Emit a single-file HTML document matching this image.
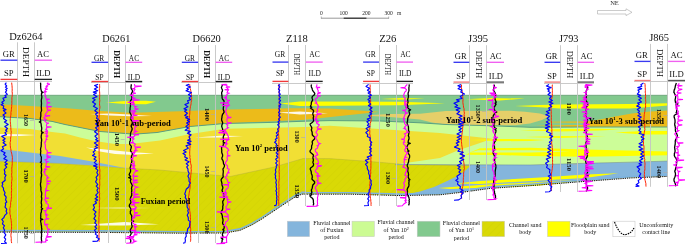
<!DOCTYPE html>
<html><head><meta charset="utf-8"><style>
html,body{margin:0;padding:0;background:#fff;}
svg{display:block;font-family:"Liberation Serif",serif;will-change:transform;}
</style></head><body>
<svg width="685" height="246" viewBox="0 0 685 246">
<defs>
<pattern id="hatch" patternUnits="userSpaceOnUse" width="5.5" height="5.5" patternTransform="rotate(45)">
<line x1="0" y1="0" x2="0" y2="5.5" stroke="#b8b800" stroke-width="0.8" opacity="0.25"/>
</pattern>
</defs>
<rect width="685" height="246" fill="#fff"/>
<polygon points="0.0,95.0 668.0,95.0 668.0,176.0 630.0,177.6 585.0,181.0 530.0,185.3 490.0,188.0 465.0,191.5 440.0,194.4 400.0,195.2 350.0,193.8 302.0,193.8 296.0,196.0 286.0,202.5 274.0,210.5 262.0,218.5 252.0,224.5 240.0,230.0 225.0,232.6 180.0,232.8 100.0,232.0 0.0,231.7" fill="#f1df34" /><polygon points="395.0,164.6 470.0,164.8 530.0,165.0 585.0,163.3 630.0,162.2 668.0,161.1 668.0,176.0 630.0,177.6 585.0,181.0 530.0,185.3 490.0,188.0 465.0,191.5 440.0,194.4 400.0,195.2 395.0,195.3" fill="#84b5dc" /><polygon points="0.0,161.2 60.0,163.5 123.0,168.0 160.0,170.0 230.0,176.5 274.0,167.0 303.0,158.5 330.0,158.6 374.0,161.8 403.0,164.3 470.5,165.5 466.0,170.0 456.0,176.7 445.0,182.0 434.0,187.0 420.0,191.5 405.0,194.5 395.0,195.3 350.0,193.8 302.0,193.8 296.0,196.0 286.0,202.5 274.0,210.5 262.0,218.5 252.0,224.5 240.0,230.0 225.0,232.6 180.0,232.8 100.0,232.0 0.0,231.7" fill="#d9d906" /><polygon points="0.0,161.2 60.0,163.5 123.0,168.0 160.0,170.0 230.0,176.5 274.0,167.0 303.0,158.5 330.0,158.6 374.0,161.8 403.0,164.3 470.5,165.5 466.0,170.0 456.0,176.7 445.0,182.0 434.0,187.0 420.0,191.5 405.0,194.5 395.0,195.3 350.0,193.8 302.0,193.8 296.0,196.0 286.0,202.5 274.0,210.5 262.0,218.5 252.0,224.5 240.0,230.0 225.0,232.6 180.0,232.8 100.0,232.0 0.0,231.7" fill="url(#hatch)" /><polygon points="0.0,149.0 30.0,152.5 60.0,156.0 95.0,162.0 125.0,168.0 95.0,165.5 60.0,163.5 0.0,161.2" fill="#84b5dc" /><polygon points="0.0,116.7 30.0,118.5 52.0,121.4 65.0,124.5 100.0,131.5 134.0,134.2 157.0,132.5 190.0,126.5 225.0,123.5 272.0,122.4 305.0,121.2 330.0,120.6 380.0,121.0 420.0,122.8 446.0,124.5 492.0,125.8 530.0,127.3 585.0,127.0 668.0,127.0 668.0,161.1 630.0,162.2 585.0,163.3 530.0,165.0 470.0,164.8 395.0,164.6 440.0,158.0 457.0,150.8 474.0,145.0 492.4,138.8 440.0,133.1 330.0,125.8 305.0,127.0 270.0,127.8 225.0,128.7 190.0,134.0 160.0,140.5 130.0,144.0 115.0,144.0 95.0,141.0 80.0,137.5 65.0,133.5 52.0,132.0 30.0,129.1 0.0,127.5" fill="#ccfd98" /><polygon points="0.0,95.0 668.0,95.0 668.0,127.0 585.0,127.0 530.0,127.3 492.0,125.8 446.0,124.5 420.0,122.8 380.0,121.0 330.0,120.6 305.0,121.2 272.0,122.4 225.0,123.5 190.0,126.5 157.0,132.5 134.0,134.2 100.0,131.5 65.0,124.5 52.0,121.4 30.0,118.5 0.0,116.7" fill="#82c98e" /><polygon points="0.0,104.3 30.0,106.0 70.0,108.4 96.0,110.7 130.0,112.8 140.0,112.5 180.0,111.2 225.0,109.6 274.0,108.8 290.0,108.2 330.0,108.6 378.0,111.8 378.0,112.0 340.0,116.0 305.0,119.7 272.0,121.3 225.0,123.2 190.0,126.5 157.0,132.5 134.0,134.2 100.0,131.5 65.0,124.5 52.0,121.4 30.0,118.5 0.0,116.7" fill="#ecbb1a" /><polygon points="371.0,115.0 390.0,114.0 420.0,113.8 446.0,111.0 510.0,110.8 525.0,111.8 540.0,113.5 549.0,116.2 542.0,120.0 530.0,123.5 515.0,125.3 492.0,125.6 446.0,124.4 432.0,122.6 420.0,119.6 390.0,117.0 371.0,116.0" fill="#e5cf69" /><polygon points="585.0,121.5 600.0,119.5 615.0,116.5 632.0,113.5 650.0,111.6 668.0,110.6 668.0,127.0 600.0,127.0 585.0,126.5" fill="#ecbb1a" /><polygon points="535.0,122.0 570.0,121.4 600.0,121.4 600.0,122.8 570.0,122.8" fill="#ecbb1a" /><polygon points="535.0,125.8 570.0,125.0 600.0,125.0 600.0,126.9 570.0,126.9" fill="#ecbb1a" /><polygon points="106.0,102.6 125.0,101.0 146.0,100.8 156.0,101.8 146.0,104.2 125.0,104.0" fill="#ffff00" /><polygon points="280.0,103.6 300.0,101.4 400.0,101.7 445.0,103.3 400.0,105.3 300.0,106.0" fill="#ffff00" /><polygon points="381.0,99.0 400.0,98.0 425.0,98.6 400.0,99.8" fill="#ffff00" /><polygon points="466.0,99.3 490.0,98.0 525.0,98.6 500.0,100.4" fill="#ffff00" /><polygon points="515.0,106.0 540.0,105.0 560.0,104.6 630.0,104.0 668.0,103.3 668.0,105.5 630.0,108.4 560.0,108.6 540.0,107.2" fill="#ffff00" /><polygon points="520.0,130.2 560.0,129.0 600.0,128.7 619.0,129.4 600.0,130.5 560.0,131.4" fill="#ffff00" /><polygon points="615.0,132.5 642.0,131.0 668.0,131.0 668.0,134.6 642.0,134.6 630.0,133.6" fill="#ffff00" /><polygon points="525.0,137.0 560.0,135.9 606.0,136.5 560.0,138.0" fill="#ffff00" /><polygon points="469.0,140.0 500.0,139.0 530.0,139.3 545.0,140.0 530.0,141.0 500.0,141.2" fill="#ffff00" /><polygon points="480.0,148.2 530.0,147.8 585.0,149.4 668.0,151.6 668.0,155.2 585.0,156.7 530.0,156.0 500.0,155.0 466.0,154.7 470.0,152.6" fill="#ffff00" /><polygon points="455.0,183.5 480.0,181.0 540.0,177.5 585.0,174.5 618.5,173.3 585.0,178.0 540.0,180.4 480.0,184.0" fill="#ffff00" /><polygon points="438.0,188.0 480.0,185.0 540.0,181.9 580.0,179.5 600.0,178.6 540.0,185.5 490.0,187.5 450.0,189.0" fill="#ffff00" /><polygon points="478.0,150.3 530.0,150.3 570.0,151.5 530.0,152.5 470.0,152.6" fill="#ccfd98" /><polygon points="0.0,134.0 20.0,134.2 36.0,135.0 20.0,136.0 0.0,136.3" fill="#ffffff" opacity="0.9"/><polygon points="86.0,147.5 110.0,150.0 130.0,152.0 154.0,153.5 130.0,154.8 115.0,154.0 100.0,151.5" fill="#ffffff" opacity="0.9"/><polygon points="90.0,114.0 110.0,113.5 130.0,114.5 152.0,116.0 130.0,116.2 110.0,115.6" fill="#ffffff" opacity="0.9"/><polygon points="278.0,112.5 300.0,111.6 328.0,113.3 300.0,114.6" fill="#ffffff" opacity="0.9"/><polygon points="195.0,137.5 220.0,135.8 243.0,136.0 220.0,137.4" fill="#ffffff" opacity="0.9"/><polygon points="80.0,225.0 110.0,223.0 125.0,222.0 159.0,224.3 125.0,225.6 100.0,225.4" fill="#ffffff" opacity="0.9"/><polygon points="89.0,208.0 120.0,207.3 153.0,208.0 120.0,208.8" fill="#ffffff" opacity="0.5"/><polyline points="0.0,95.3 668.0,95.3" fill="none" stroke="#76a882" stroke-width="0.9" /><polyline points="0.0,116.7 30.0,118.5 52.0,121.4 65.0,124.5 100.0,131.5 134.0,134.2 157.0,132.5 190.0,126.5 225.0,123.5 272.0,122.4 305.0,121.2 330.0,120.6 380.0,121.0 420.0,122.8 446.0,124.5 492.0,125.8 530.0,127.3 585.0,127.0 668.0,127.0" fill="none" stroke="#4f9a86" stroke-width="0.9" /><polyline points="0.0,161.2 60.0,163.5 123.0,168.0 160.0,170.0 230.0,176.5 274.0,167.0 303.0,158.5 330.0,158.6 374.0,161.8 403.0,164.3 470.5,165.5" fill="none" stroke="#9a9a50" stroke-width="0.5" opacity="0.6"/><polyline points="395.0,164.6 470.0,164.8 530.0,165.0 585.0,163.3 630.0,162.2 668.0,161.1" fill="none" stroke="#6a8fb0" stroke-width="0.6" /><polyline points="0.0,230.6 100.0,230.9 180.0,231.7 225.0,231.5 240.0,228.9 252.0,223.4 262.0,217.4 274.0,209.4 286.0,201.4 296.0,194.9 302.0,192.7 350.0,192.7 400.0,194.1 440.0,193.3 465.0,190.4 490.0,186.9 530.0,184.2 585.0,179.9 630.0,176.5 668.0,174.9" fill="none" stroke="#7db3df" stroke-width="1.6" /><polyline points="0.0,232.1 100.0,232.4 180.0,233.2 225.0,233.0 240.0,230.4 252.0,224.9 262.0,218.9 274.0,210.9 286.0,202.9 296.0,196.4 302.0,194.2 350.0,194.2 400.0,195.6 440.0,194.8 465.0,191.9 490.0,188.4 530.0,185.7 585.0,181.4 630.0,178.0 668.0,176.4" fill="none" stroke="#111" stroke-width="1.0" stroke-dasharray="1.3 0.9"/>
<line x1="17.5" y1="42.3" x2="17.5" y2="243.3" stroke="#c4c4c4" stroke-width="0.9"/><line x1="34.5" y1="42.3" x2="34.5" y2="243.3" stroke="#c4c4c4" stroke-width="0.9"/><line x1="0" y1="81.5" x2="52" y2="81.5" stroke="#c4c4c4" stroke-width="0.9"/><line x1="0.5" y1="60.2" x2="17.3" y2="60.2" stroke="#3a3af0" stroke-width="1.35"/><line x1="34.699999999999996" y1="60.2" x2="52" y2="60.2" stroke="#f060f0" stroke-width="1.35"/><line x1="0.5" y1="79.4" x2="17.3" y2="79.4" stroke="#f03a3a" stroke-width="1.35"/><line x1="34.699999999999996" y1="79.4" x2="52" y2="79.4" stroke="#222" stroke-width="1.35"/><text x="2.7" y="57.1" font-size="8.6" fill="#111">GR</text><text x="37.1" y="57.1" font-size="8.6" fill="#111">AC</text><text x="4" y="75.9" font-size="8.6" fill="#111">SP</text><text x="36.2" y="75.9" font-size="8.6" fill="#111">ILD</text><text x="9.2" y="39.75" font-size="11" fill="#111" textLength="33.2" lengthAdjust="spacingAndGlyphs">Dz6264</text><text transform="translate(23.0,47) rotate(90)" font-size="9" fill="#111" textLength="30" lengthAdjust="spacingAndGlyphs">DEPTH</text><text transform="translate(23.7,114) rotate(90)" font-size="6.3" font-weight="bold" fill="#111" textLength="12" lengthAdjust="spacingAndGlyphs">1650</text><line x1="29.9" y1="120.5" x2="33.9" y2="120.5" stroke="#aaa" stroke-width="0.6"/><text transform="translate(23.7,169.5) rotate(90)" font-size="6.3" font-weight="bold" fill="#111" textLength="13.199999999999989" lengthAdjust="spacingAndGlyphs">1700</text><line x1="29.9" y1="176.5" x2="33.9" y2="176.5" stroke="#aaa" stroke-width="0.6"/><text transform="translate(23.7,226.6) rotate(90)" font-size="6.3" font-weight="bold" fill="#111" textLength="12.300000000000011" lengthAdjust="spacingAndGlyphs">1750</text><line x1="29.9" y1="233.5" x2="33.9" y2="233.5" stroke="#aaa" stroke-width="0.6"/><polyline points="11.7,82.6 11.8,84.1 12.0,85.6 12.1,87.1 12.2,88.6 12.2,90.1 12.1,91.6 12.3,93.1 12.3,94.6 12.2,96.1 11.9,97.6 11.9,99.1 11.9,100.6 11.8,102.1 11.9,103.6 11.7,105.1 11.7,106.6 11.5,108.1 11.4,109.6 11.2,111.1 10.9,112.6 11.0,114.1 10.7,115.6 10.6,117.1 10.3,118.6 10.2,120.1 10.3,121.6 10.4,123.1 10.6,124.6 10.7,126.1 10.8,127.6 10.9,129.1 11.0,130.6 11.3,132.1 11.0,133.6 11.1,135.1 10.9,136.6 10.6,138.1 10.6,139.6 10.5,141.1 10.1,142.6 10.2,144.1 10.3,145.6 10.4,147.1 10.7,148.6 11.0,150.1 11.1,151.6 11.6,153.1 11.9,154.6 12.2,156.1 12.4,157.6 12.3,159.1 12.3,160.6 12.2,162.1 12.3,163.6 12.1,165.1 12.0,166.6 11.8,168.1 11.8,169.6 11.8,171.1 11.9,172.6 11.6,174.1 11.7,175.6 11.9,177.1 12.0,178.6 11.9,180.1 11.6,181.6 11.5,183.1 11.7,184.6 11.5,186.1 11.4,187.6 11.6,189.1 11.6,190.6 11.4,192.1 11.4,193.6 11.4,195.1 11.5,196.6 11.3,198.1 11.2,199.6 11.0,201.1 10.6,202.6 10.7,204.1 10.5,205.6 10.2,207.1 9.8,208.6 9.9,210.1 10.0,211.6 9.8,213.1 10.1,214.6 10.5,216.1 10.5,217.6 11.0,219.1 11.2,220.6 11.3,222.1 11.5,223.6 11.6,225.1 11.5,226.6 11.6,228.1 11.3,229.6 11.2,231.1 11.2,232.6 11.0,234.1 10.9,235.6 11.1,237.1 11.3,238.6 11.2,240.1 11.4,241.6 11.7,243.1" fill="none" stroke="#ff2000" stroke-width="1.0" /><polyline points="6.4,82.6 5.1,84.2 6.7,86.0 5.4,87.1 7.2,88.4 5.7,89.4 6.7,90.7 5.4,92.2 7.3,94.4 4.9,95.6 6.3,97.1 2.9,98.3 4.3,100.6 1.8,102.3 3.3,103.5 1.0,104.8 3.8,106.1 3.1,108.4 6.0,109.6 3.4,110.6 6.0,113.0 3.0,115.0 4.8,116.5 3.5,118.6 6.7,120.7 4.4,122.0 8.2,124.4 4.8,126.5 7.5,128.5 5.6,130.2 6.9,131.3 4.9,132.7 6.5,134.6 1.7,136.3 5.2,138.7 2.8,140.2 4.9,141.5 3.1,142.8 6.2,145.0 2.3,146.7 3.6,148.8 1.0,150.7 5.1,152.8 3.6,154.5 6.3,156.6 3.8,158.7 7.2,160.3 4.9,162.6 7.4,163.9 5.0,165.1 6.7,167.2 4.2,169.7 5.0,172.0 4.4,174.0 6.0,175.3 4.8,177.5 5.2,180.2 2.1,182.8 2.8,184.3 1.9,186.0 3.5,188.1 3.5,190.0 5.1,192.7 4.3,194.6 6.2,197.2 5.6,199.9 6.8,202.0 5.3,203.2 5.7,204.7 5.0,207.2 6.8,209.1 6.1,211.2 7.1,213.2 4.6,215.7 3.8,217.8 1.8,219.4 3.3,221.5 2.4,223.9 4.5,225.8 3.3,227.8 4.6,230.1 3.8,232.1 5.8,234.9 4.2,237.5 5.7,239.1 4.6,241.8 6.5,243.2 1.0,243.5" fill="none" stroke="#0000ff" stroke-width="1.15" stroke-linejoin="round"/><polyline points="40.5,82.6 40.6,83.6 40.7,84.6 40.6,85.6 40.7,86.6 40.7,87.6 40.8,88.6 41.0,89.6 41.3,90.6 41.5,91.6 43.1,92.4 41.5,93.2 41.5,94.2 41.5,95.2 41.8,96.2 41.8,97.2 41.7,98.2 41.5,99.2 41.3,100.2 41.3,101.2 41.4,102.2 41.5,103.2 41.4,104.2 41.4,105.2 41.3,106.2 41.3,107.2 41.4,108.2 41.4,109.2 41.6,110.2 41.3,111.2 40.8,112.2 40.8,113.2 40.8,114.2 40.8,115.2 40.8,116.2 40.6,117.2 40.4,118.2 40.4,119.2 40.6,120.2 40.9,121.2 39.3,122.0 40.9,122.8 41.1,123.8 41.2,124.8 41.3,125.8 41.5,126.8 41.7,127.8 41.7,128.8 41.6,129.8 41.3,130.8 41.6,131.8 43.2,132.6 41.6,133.4 41.5,134.4 41.3,135.4 41.2,136.4 41.2,137.4 41.4,138.4 41.6,139.4 41.6,140.4 41.5,141.4 41.3,142.4 41.3,143.4 41.3,144.4 41.2,145.4 41.2,146.4 40.9,147.4 40.7,148.4 40.5,149.4 40.7,150.4 40.8,151.4 40.6,152.4 40.6,153.4 40.5,154.4 40.7,155.4 41.1,156.4 41.4,157.4 41.3,158.4 41.3,159.4 41.3,160.4 41.4,161.4 40.3,162.2 41.4,163.0 41.6,164.0 41.4,165.0 41.2,166.0 41.3,167.0 41.4,168.0 41.5,169.0 41.6,170.0 41.4,171.0 41.3,172.0 41.2,173.0 41.5,174.0 41.6,175.0 41.5,176.0 41.3,177.0 41.1,178.0 41.1,179.0 41.0,180.0 40.9,181.0 40.9,182.0 40.6,183.0 40.5,184.0 40.5,185.0 40.6,186.0 40.8,187.0 41.0,188.0 40.8,189.0 40.9,190.0 41.1,191.0 41.4,192.0 41.7,193.0 41.7,194.0 41.6,195.0 41.5,196.0 41.4,197.0 41.7,198.0 41.7,199.0 41.6,200.0 41.4,201.0 41.3,202.0 41.2,203.0 41.5,204.0 41.6,205.0 41.6,206.0 41.3,207.0 41.4,208.0 42.7,208.8 41.4,209.6 41.5,210.6 41.4,211.6 41.2,212.6 40.8,213.6 40.8,214.6 40.7,215.6 40.8,216.6 40.7,217.6 40.6,218.6 42.7,219.4 40.6,220.2 40.6,221.2 40.8,222.2 41.1,223.2 41.1,224.2 41.3,225.2 41.5,226.2 41.5,227.2 41.6,228.2 41.8,229.2 41.7,230.2 41.6,231.2 41.3,232.2 41.4,233.2 41.6,234.2 41.5,235.2 41.6,236.2 41.3,237.2 41.4,238.2 41.4,239.2 41.5,240.2 41.7,241.2 41.4,242.2 41.3,243.2" fill="none" stroke="#000" stroke-width="1.3" stroke-linejoin="round"/><polyline points="48.2,82.6 47.4,83.7 49.9,84.1 48.2,84.6 46.2,86.3 47.3,86.7 46.6,87.2 45.3,88.7 47.7,89.1 45.7,89.6 44.6,91.3 46.3,91.7 45.9,92.1 44.7,92.6 45.2,94.4 44.9,95.9 46.0,96.8 45.8,97.9 46.3,98.9 49.8,99.3 46.5,99.8 47.1,101.2 47.3,102.4 50.2,102.8 47.0,103.3 47.2,105.1 46.6,106.2 51.6,106.6 46.8,107.1 47.3,108.5 47.6,109.7 50.8,110.1 49.4,110.5 47.3,111.0 46.9,112.2 45.8,113.9 45.0,115.2 50.1,115.6 48.2,116.0 45.8,116.5 43.9,117.6 45.2,119.0 46.1,119.4 44.1,119.9 44.9,120.9 44.9,121.3 45.7,121.8 46.5,122.7 48.8,123.1 46.9,123.6 46.4,125.4 46.8,126.6 51.5,127.0 46.7,127.5 46.6,128.8 45.8,129.2 46.6,129.7 47.4,130.8 44.9,131.2 47.4,131.7 47.4,132.8 45.6,133.2 47.0,133.7 46.5,134.7 47.6,135.7 45.4,136.1 47.5,136.6 46.3,138.3 46.1,139.2 46.9,139.6 45.8,140.1 45.6,141.8 44.5,142.2 45.1,142.7 44.8,143.8 45.4,144.8 45.3,146.5 45.4,147.6 45.8,149.3 47.1,150.6 47.4,152.4 51.5,152.8 46.9,153.3 47.2,154.7 46.8,155.1 48.0,155.6 47.0,156.6 50.8,157.0 49.3,157.4 47.1,157.9 47.0,159.3 44.4,159.7 45.8,160.2 46.1,161.3 47.7,161.7 46.6,162.2 46.2,163.3 46.1,164.9 45.8,166.4 50.2,166.8 48.5,167.2 46.3,167.7 44.5,169.3 46.2,169.7 44.7,170.2 45.0,171.6 43.8,172.0 44.7,172.5 44.9,173.6 45.1,174.6 47.4,176.2 47.4,177.4 49.0,177.8 46.9,178.3 46.7,179.5 47.2,180.8 51.0,181.2 47.0,181.7 47.0,183.2 49.0,183.6 48.2,184.0 47.0,184.5 46.8,185.9 46.7,187.1 46.5,188.2 45.8,188.6 46.0,189.1 45.5,190.0 48.2,190.4 47.3,190.8 45.8,191.3 45.2,192.4 45.7,193.6 45.0,194.8 45.7,196.4 45.3,197.7 49.0,198.1 45.3,198.6 44.6,199.8 46.4,201.2 47.0,201.6 45.7,202.1 46.2,203.0 48.0,204.3 48.5,205.6 48.5,206.6 47.0,207.7 52.0,208.1 47.6,208.6 46.3,210.3 44.5,210.7 45.9,211.2 45.0,212.3 46.3,213.4 45.5,214.5 48.2,214.9 45.8,215.4 46.5,216.5 46.1,218.2 49.1,218.6 46.0,219.1 44.7,220.1 44.8,221.3 44.5,222.7 44.8,224.0 48.3,224.4 45.1,224.9 47.3,226.5 47.2,227.5 47.6,228.8 50.0,229.2 48.0,229.7 47.9,230.7 48.1,232.3 47.5,233.5 47.9,234.6 46.7,236.2 51.6,236.6 47.3,237.1 45.9,238.2 45.8,239.9 47.9,240.3 45.6,240.8 45.8,241.9 35.4,242.2" fill="none" stroke="#ff00ff" stroke-width="1.1" /><line x1="108.5" y1="45.1" x2="108.5" y2="243" stroke="#c4c4c4" stroke-width="0.9"/><line x1="125.5" y1="45.1" x2="125.5" y2="243" stroke="#c4c4c4" stroke-width="0.9"/><line x1="91" y1="82.5" x2="142.2" y2="82.5" stroke="#c4c4c4" stroke-width="0.9"/><line x1="91.5" y1="62.3" x2="108.10000000000001" y2="62.3" stroke="#3a3af0" stroke-width="1.35"/><line x1="125.5" y1="62.3" x2="142.2" y2="62.3" stroke="#f060f0" stroke-width="1.35"/><line x1="91.5" y1="81.5" x2="108.10000000000001" y2="81.5" stroke="#f03a3a" stroke-width="1.35"/><line x1="125.5" y1="81.5" x2="142.2" y2="81.5" stroke="#222" stroke-width="1.35"/><text x="93.9" y="60.5" font-size="7.4" fill="#111">GR</text><text x="128.8" y="60.5" font-size="7.4" fill="#111">AC</text><text x="95.3" y="79.9" font-size="7.4" fill="#111">SP</text><text x="127.8" y="79.9" font-size="7.4" fill="#111">ILD</text><text x="102.3" y="41.75" font-size="11" fill="#111" textLength="28" lengthAdjust="spacingAndGlyphs">D6261</text><text transform="translate(114.0,50.2) rotate(90)" font-size="9" font-weight="bold" fill="#111" textLength="28.0" lengthAdjust="spacingAndGlyphs">DEPTH</text><text transform="translate(114.50000000000001,132.7) rotate(90)" font-size="6.3" font-weight="bold" fill="#111" textLength="13.300000000000011" lengthAdjust="spacingAndGlyphs">1450</text><line x1="120.7" y1="139.5" x2="124.7" y2="139.5" stroke="#aaa" stroke-width="0.6"/><text transform="translate(114.50000000000001,187) rotate(90)" font-size="6.3" font-weight="bold" fill="#111" textLength="13.699999999999989" lengthAdjust="spacingAndGlyphs">1500</text><line x1="120.7" y1="194.5" x2="124.7" y2="194.5" stroke="#aaa" stroke-width="0.6"/><polyline points="99.6,84.2 99.6,85.7 99.7,87.2 99.4,88.7 99.3,90.2 99.6,91.7 99.7,93.2 99.7,94.7 99.7,96.2 99.6,97.7 99.6,99.2 99.8,100.7 99.6,102.2 99.5,103.7 99.6,105.2 99.9,106.7 99.8,108.2 99.5,109.7 99.4,111.2 99.4,112.7 99.2,114.2 99.3,115.7 99.1,117.2 98.9,118.7 99.1,120.2 98.9,121.7 98.9,123.2 98.9,124.7 98.8,126.2 98.9,127.7 98.8,129.2 98.7,130.7 98.7,132.2 98.8,133.7 98.9,135.2 99.0,136.7 99.0,138.2 99.1,139.7 99.1,141.2 99.0,142.7 99.0,144.2 98.9,145.7 99.1,147.2 99.1,148.7 99.1,150.2 99.1,151.7 99.1,153.2 99.2,154.7 99.1,156.2 99.2,157.7 99.3,159.2 99.3,160.7 99.5,162.2 99.3,163.7 99.4,165.2 99.4,166.7 99.5,168.2 99.8,169.7 99.9,171.2 99.7,172.7 99.8,174.2 99.9,175.7 99.8,177.2 99.9,178.7 99.6,180.2 99.7,181.7 99.7,183.2 99.8,184.7 99.6,186.2 99.5,187.7 99.5,189.2 99.5,190.7 99.4,192.2 99.7,193.7 99.4,195.2 99.5,196.7 99.7,198.2 99.6,199.7 99.4,201.2 99.3,202.7 99.4,204.2 99.5,205.7 99.3,207.2 99.4,208.7 99.2,210.2 99.2,211.7 99.1,213.2 99.1,214.7 99.1,216.2 98.8,217.7 98.9,219.2 98.9,220.7 98.8,222.2 98.8,223.7 98.9,225.2 99.1,226.7 98.9,228.2 98.9,229.7 98.8,231.2 99.2,232.7 99.0,234.2 99.0,235.7 99.0,237.2 99.1,238.7 99.0,240.2 99.2,241.7" fill="none" stroke="#ff2000" stroke-width="1.0" /><polyline points="98.1,84.2 94.6,85.6 97.7,87.2 94.4,88.9 97.6,90.8 93.3,92.1 96.5,93.1 93.6,94.5 97.0,96.8 92.6,98.3 95.2,99.7 92.5,102.0 95.6,104.0 93.4,106.3 97.4,108.5 94.8,110.7 97.9,112.7 95.5,114.1 97.5,116.0 96.5,118.3 98.3,119.3 96.7,121.6 98.3,122.8 95.7,123.9 98.6,125.8 95.6,127.8 97.4,129.6 94.6,131.8 97.7,134.0 94.9,136.2 97.4,138.6 95.6,139.8 98.2,140.9 94.4,143.0 97.7,145.2 95.2,146.6 97.6,147.7 94.2,149.0 95.3,150.6 93.1,152.0 94.8,154.0 92.5,155.4 96.0,157.1 94.0,159.0 96.4,160.6 94.3,162.6 97.1,164.6 93.6,165.9 97.2,167.1 95.7,168.5 97.9,170.1 96.8,172.8 98.1,174.8 96.0,177.3 97.0,179.3 95.6,181.8 97.8,184.5 96.2,186.1 98.2,188.1 96.9,190.3 98.2,192.7 95.7,195.2 97.7,197.0 95.1,198.8 97.7,200.1 95.1,201.4 96.5,203.0 93.3,205.0 94.5,207.6 93.1,209.6 96.1,212.0 94.3,214.2 95.7,215.9 93.9,218.5 96.1,220.9 94.7,222.8 97.0,224.9 94.9,226.8 96.7,228.4 94.5,230.1 96.3,232.6 95.3,234.1 97.7,235.8 96.4,237.3 99.2,238.8 97.3,241.1 92.5,241.4" fill="none" stroke="#0000ff" stroke-width="1.15" stroke-linejoin="round"/><polyline points="131.3,84.2 131.3,85.2 131.1,86.2 131.0,87.2 131.1,88.2 131.5,89.2 132.3,90.2 132.5,91.2 132.3,92.2 131.6,93.2 131.2,94.2 131.1,95.2 131.6,96.2 131.9,97.2 131.9,98.2 131.6,99.2 131.0,100.2 130.3,101.2 130.3,102.2 130.4,103.2 130.6,104.2 130.4,105.2 130.5,106.2 130.2,107.2 130.1,108.2 130.1,109.2 130.0,110.2 130.0,111.2 129.8,112.2 130.2,113.2 130.8,114.2 131.2,115.2 131.2,116.2 131.1,117.2 130.7,118.2 130.7,119.2 131.2,120.2 132.0,121.2 132.5,122.2 134.6,123.0 132.5,123.8 131.5,124.8 131.1,125.8 131.3,126.8 131.8,127.8 132.2,128.8 132.0,129.8 131.6,130.8 131.1,131.8 130.7,132.8 130.5,133.8 130.5,134.8 130.3,135.8 130.5,136.8 130.4,137.8 130.3,138.8 130.5,139.8 130.2,140.8 129.7,141.8 129.7,142.8 129.6,143.8 130.2,144.8 131.0,145.8 131.4,146.8 131.2,147.8 130.9,148.8 130.5,149.8 130.6,150.8 131.3,151.8 132.0,152.8 132.4,153.8 132.1,154.8 131.7,155.8 131.4,156.8 131.4,157.8 131.6,158.8 131.8,159.8 132.0,160.8 131.7,161.8 131.5,162.8 131.3,163.8 131.0,164.8 130.7,165.8 130.5,166.8 130.2,167.8 130.4,168.8 130.5,169.8 130.6,170.8 130.5,171.8 130.0,172.8 129.5,173.8 129.1,174.8 130.1,175.8 130.6,176.8 128.7,177.6 130.6,178.4 131.0,179.4 130.4,180.4 130.5,181.4 130.7,182.4 131.3,183.4 131.8,184.4 132.3,185.4 131.9,186.4 131.7,187.4 131.5,188.4 131.7,189.4 131.8,190.4 131.7,191.4 131.6,192.4 131.7,193.4 131.7,194.4 131.7,195.4 131.2,196.4 130.7,197.4 130.4,198.4 130.2,199.4 130.5,200.4 130.8,201.4 130.9,202.4 130.5,203.4 129.8,204.4 129.3,205.4 129.4,206.4 130.0,207.4 130.7,208.4 131.0,209.4 130.9,210.4 130.3,211.4 130.4,212.4 130.3,213.4 130.9,214.4 131.6,215.4 131.7,216.4 131.7,217.4 131.9,218.4 131.8,219.4 131.9,220.4 133.6,221.2 131.9,222.0 131.6,223.0 131.6,224.0 131.8,225.0 132.1,226.0 132.0,227.0 131.4,228.0 130.8,229.0 130.3,230.0 130.3,231.0 130.7,232.0 131.2,233.0 131.1,234.0 130.5,235.0 129.9,236.0 129.5,237.0 129.5,238.0 130.1,239.0 130.7,240.0 130.8,241.0 130.6,242.0 130.3,243.0" fill="none" stroke="#000" stroke-width="1.3" stroke-linejoin="round"/><polyline points="134.4,84.2 134.8,85.7 141.5,86.1 138.8,86.5 134.9,87.0 134.6,88.4 132.0,88.8 134.9,89.3 134.4,90.2 133.7,91.5 133.7,92.8 135.9,93.2 133.3,93.7 132.7,94.7 129.6,95.1 133.2,95.6 132.3,96.7 133.3,97.7 134.7,98.1 132.6,98.6 133.5,99.6 139.6,100.0 133.3,100.5 133.4,101.9 127.5,102.3 133.8,102.8 134.3,103.9 130.6,104.3 133.7,104.8 134.5,106.4 136.3,106.8 135.2,107.3 134.9,108.5 138.4,108.9 137.2,109.3 135.2,109.8 134.8,110.6 130.3,111.0 135.4,111.5 134.0,112.5 131.5,112.9 134.1,113.4 132.9,114.8 137.5,115.2 133.7,115.7 132.0,116.6 133.1,117.7 131.4,118.1 133.1,118.6 133.2,119.6 132.8,120.4 139.3,120.8 136.8,121.2 133.0,121.7 133.5,123.2 135.5,123.6 134.0,124.1 133.7,124.9 135.9,126.0 136.4,126.4 135.8,126.8 134.9,127.3 134.5,128.7 135.5,130.1 134.3,131.0 136.8,131.4 135.9,131.8 134.8,132.3 133.7,133.2 134.1,134.2 139.0,134.6 134.4,135.1 134.6,135.9 133.2,136.9 127.1,137.3 133.1,137.8 132.4,138.6 134.0,139.0 133.5,139.4 132.8,139.9 132.4,141.0 133.4,142.2 130.0,142.6 133.8,143.1 135.4,144.2 134.1,145.3 135.3,146.7 140.8,147.1 138.4,147.5 135.1,148.0 136.1,149.3 134.7,150.4 136.4,150.8 134.8,151.3 134.8,152.1 131.4,152.5 134.6,153.0 133.6,154.1 133.5,155.2 136.8,155.6 133.6,156.1 132.8,157.1 132.9,158.2 130.6,158.6 132.3,159.1 133.1,160.5 134.2,161.7 134.2,163.2 131.1,163.6 133.9,164.1 134.5,165.2 132.1,165.6 134.7,166.1 133.4,166.9 134.5,168.0 130.6,168.4 135.2,168.9 135.5,170.4 138.2,170.8 137.0,171.2 135.2,171.7 134.1,172.6 134.0,173.5 133.4,174.9 132.7,175.8 138.1,176.2 133.3,176.7 133.5,177.5 133.6,178.7 132.9,179.7 137.8,180.1 133.4,180.6 133.4,181.9 138.1,182.3 136.2,182.7 132.5,183.2 133.1,184.0 133.4,185.2 135.4,186.7 137.8,187.1 136.7,187.5 135.2,188.0 134.2,189.4 134.9,190.6 134.7,191.9 133.1,192.3 134.6,192.8 133.9,193.8 138.6,194.2 136.7,194.6 133.9,195.1 133.9,196.6 140.0,197.0 133.5,197.5 133.6,198.7 130.4,199.1 132.8,199.6 132.9,200.5 135.3,200.9 132.3,201.4 132.8,202.2 139.3,202.6 133.1,203.1 134.3,204.4 130.4,204.8 134.1,205.3 134.8,206.5 136.4,207.8 135.1,208.6 131.3,209.0 135.2,209.5 134.1,210.9 134.5,212.4 137.9,212.8 136.7,213.2 134.6,213.7 134.1,215.0 140.3,215.4 137.8,215.8 134.1,216.3 133.1,217.2 135.3,217.6 133.0,218.1 132.5,219.2 132.9,220.7 132.2,221.5 132.7,222.7 134.0,224.1 135.6,224.5 134.9,224.9 134.0,225.4 134.3,226.2 137.2,226.6 134.4,227.1 135.4,228.6 135.3,230.0 130.7,230.4 135.6,230.9 134.7,232.1 140.4,232.5 135.1,233.0 134.6,234.3 137.4,234.7 133.8,235.2 133.8,236.2 126.7,236.6 133.6,237.1 133.1,238.0 125.7,238.4 132.5,238.9 133.9,239.8 133.4,240.9 135.7,241.3 134.7,241.7 133.1,242.2 132.9,242.9 126.2,243.2" fill="none" stroke="#ff00ff" stroke-width="1.1" /><line x1="198.5" y1="45.1" x2="198.5" y2="243" stroke="#c4c4c4" stroke-width="0.9"/><line x1="215.5" y1="45.1" x2="215.5" y2="243" stroke="#c4c4c4" stroke-width="0.9"/><line x1="181.3" y1="82.5" x2="232.2" y2="82.5" stroke="#c4c4c4" stroke-width="0.9"/><line x1="181.8" y1="62.3" x2="198.1" y2="62.3" stroke="#3a3af0" stroke-width="1.35"/><line x1="215.70000000000002" y1="62.3" x2="232.2" y2="62.3" stroke="#f060f0" stroke-width="1.35"/><line x1="181.8" y1="81.5" x2="198.1" y2="81.5" stroke="#f03a3a" stroke-width="1.35"/><line x1="215.70000000000002" y1="81.5" x2="232.2" y2="81.5" stroke="#222" stroke-width="1.35"/><text x="184.7" y="60.5" font-size="7.4" fill="#111">GR</text><text x="218.8" y="60.5" font-size="7.4" fill="#111">AC</text><text x="186" y="79.9" font-size="7.4" fill="#111">SP</text><text x="217.8" y="79.9" font-size="7.4" fill="#111">ILD</text><text x="192.5" y="41.75" font-size="11" fill="#111" textLength="28.3" lengthAdjust="spacingAndGlyphs">D6620</text><text transform="translate(204.0,50.2) rotate(90)" font-size="9" font-weight="bold" fill="#111" textLength="28.0" lengthAdjust="spacingAndGlyphs">DEPTH</text><text transform="translate(204.6,108) rotate(90)" font-size="6.3" font-weight="bold" fill="#111" textLength="13" lengthAdjust="spacingAndGlyphs">1400</text><line x1="210.9" y1="114.5" x2="214.9" y2="114.5" stroke="#aaa" stroke-width="0.6"/><text transform="translate(204.6,165.4) rotate(90)" font-size="6.3" font-weight="bold" fill="#111" textLength="12.099999999999994" lengthAdjust="spacingAndGlyphs">1450</text><line x1="210.9" y1="171.5" x2="214.9" y2="171.5" stroke="#aaa" stroke-width="0.6"/><text transform="translate(204.6,221) rotate(90)" font-size="6.3" font-weight="bold" fill="#111" textLength="12.5" lengthAdjust="spacingAndGlyphs">1500</text><line x1="210.9" y1="227.5" x2="214.9" y2="227.5" stroke="#aaa" stroke-width="0.6"/><polyline points="189.7,84.2 189.8,85.7 189.9,87.2 190.2,88.7 190.7,90.2 191.0,91.7 191.3,93.2 191.4,94.7 191.5,96.2 191.7,97.7 191.6,99.2 191.6,100.7 191.1,102.2 191.1,103.7 190.8,105.2 190.4,106.7 190.2,108.2 190.0,109.7 189.8,111.2 189.8,112.7 189.7,114.2 189.5,115.7 189.5,117.2 189.3,118.7 189.6,120.2 189.5,121.7 189.5,123.2 189.2,124.7 189.2,126.2 189.2,127.7 189.1,129.2 189.0,130.7 189.0,132.2 189.1,133.7 189.4,135.2 189.4,136.7 189.7,138.2 189.9,139.7 190.0,141.2 190.1,142.7 189.8,144.2 190.0,145.7 190.1,147.2 189.8,148.7 189.8,150.2 189.7,151.7 189.7,153.2 189.7,154.7 190.0,156.2 189.8,157.7 190.3,159.2 190.3,160.7 190.5,162.2 190.7,163.7 191.2,165.2 191.3,166.7 191.0,168.2 191.3,169.7 191.2,171.2 191.1,172.7 190.9,174.2 190.7,175.7 190.7,177.2 190.5,178.7 190.4,180.2 190.5,181.7 190.2,183.2 190.1,184.7 190.2,186.2 190.1,187.7 189.8,189.2 189.6,190.7 189.3,192.2 189.1,193.7 188.9,195.2 188.5,196.7 188.5,198.2 188.3,199.7 188.2,201.2 188.6,202.7 188.8,204.2 188.9,205.7 189.3,207.2 189.6,208.7 189.6,210.2 189.9,211.7 190.1,213.2 190.3,214.7 190.4,216.2 190.4,217.7 190.5,219.2 190.5,220.7 190.4,222.2 190.4,223.7 190.5,225.2 190.4,226.7 190.6,228.2 190.7,229.7 190.6,231.2 190.9,232.7 190.7,234.2 190.6,235.7 190.7,237.2 190.7,238.7 190.7,240.2 190.4,241.7" fill="none" stroke="#ff2000" stroke-width="1.0" /><polyline points="189.1,84.2 186.2,85.2 190.4,87.0 186.9,88.5 188.5,89.6 186.0,90.8 191.4,92.6 188.4,94.8 191.3,96.1 189.0,97.9 190.6,99.6 187.5,100.7 188.6,103.0 184.9,104.6 187.9,106.8 184.0,108.7 186.7,109.9 184.6,111.3 187.4,113.2 184.7,115.5 188.0,116.8 185.6,117.8 189.7,119.4 187.3,120.4 189.4,121.8 186.5,123.0 188.7,124.2 185.9,126.4 188.4,128.0 185.2,130.3 190.3,131.4 187.4,133.3 191.1,134.9 189.0,136.9 190.1,139.1 187.6,140.3 191.1,141.3 187.2,142.9 190.7,144.4 186.0,145.8 188.3,148.2 183.6,150.5 186.2,152.0 183.0,153.5 185.4,154.9 184.7,157.0 187.5,158.2 185.1,159.9 189.1,161.7 186.3,163.8 188.3,165.4 186.7,166.9 188.0,169.1 188.0,171.0 189.2,173.6 187.9,176.3 189.1,178.4 189.0,181.2 190.3,183.1 189.2,184.5 189.0,186.8 186.2,189.3 185.5,191.7 184.7,194.1 185.7,195.3 185.2,197.6 186.4,199.2 186.1,201.8 187.2,204.5 187.1,206.9 188.4,209.3 187.7,210.9 188.5,212.8 187.2,215.3 188.3,217.5 188.3,220.1 190.1,221.6 189.7,224.1 189.6,226.7 187.6,229.0 187.2,231.8 186.0,234.5 186.3,236.1 185.1,238.3 185.4,240.6 184.9,242.8 183.0,243.1" fill="none" stroke="#0000ff" stroke-width="1.15" stroke-linejoin="round"/><polyline points="222.6,84.2 222.3,85.2 221.9,86.2 221.4,87.2 221.6,88.2 222.1,89.2 222.5,90.2 222.4,91.2 221.8,92.2 221.6,93.2 221.8,94.2 221.8,95.2 222.1,96.2 222.0,97.2 222.2,98.2 222.6,99.2 223.5,100.2 224.1,101.2 223.9,102.2 223.7,103.2 223.5,104.2 223.4,105.2 223.6,106.2 223.5,107.2 223.3,108.2 223.2,109.2 223.6,110.2 223.9,111.2 224.1,112.2 223.5,113.2 222.6,114.2 222.3,115.2 222.0,116.2 222.0,117.2 221.8,118.2 221.6,119.2 221.7,120.2 222.1,121.2 222.5,122.2 222.7,123.2 222.2,124.2 221.9,125.2 221.7,126.2 222.0,127.2 222.4,128.2 222.6,129.2 222.8,130.2 223.0,131.2 223.7,132.2 224.1,133.2 224.4,134.2 223.9,135.2 223.5,136.2 223.2,137.2 223.3,138.2 223.5,139.2 223.5,140.2 223.2,141.2 223.2,142.2 225.2,143.0 223.2,143.8 223.5,144.8 222.8,145.8 222.0,146.8 221.5,147.8 221.6,148.8 221.7,149.8 221.8,150.8 221.7,151.8 221.8,152.8 222.2,153.8 222.6,154.8 222.6,155.8 222.4,156.8 221.9,157.8 221.9,158.8 222.5,159.8 223.0,160.8 223.3,161.8 223.4,162.8 223.6,163.8 224.3,164.8 224.5,165.8 224.2,166.8 223.7,167.8 223.0,168.8 223.0,169.8 223.3,170.8 223.3,171.8 223.2,172.8 223.1,173.8 223.0,174.8 223.1,175.8 223.2,176.8 222.5,177.8 221.6,178.8 221.1,179.8 221.2,180.8 221.6,181.8 221.8,182.8 222.0,183.8 222.0,184.8 222.2,185.8 222.7,186.8 222.9,187.8 222.6,188.8 222.2,189.8 222.1,190.8 222.6,191.8 223.2,192.8 223.7,193.8 223.9,194.8 223.9,195.8 224.0,196.8 224.3,197.8 224.1,198.8 223.7,199.8 223.0,200.8 222.7,201.8 222.8,202.8 223.0,203.8 223.2,204.8 222.9,205.8 222.7,206.8 222.8,207.8 222.7,208.8 222.4,209.8 221.7,210.8 221.1,211.8 221.0,212.8 221.6,213.8 222.0,214.8 222.3,215.8 222.4,216.8 222.4,217.8 222.8,218.8 223.0,219.8 223.0,220.8 222.8,221.8 222.6,222.8 222.8,223.8 223.5,224.8 224.0,225.8 224.3,226.8 224.1,227.8 223.9,228.8 222.8,229.6 223.9,230.4 223.7,231.4 223.2,232.4 222.6,233.4 222.4,234.4 222.5,235.4 223.0,236.4 222.9,237.4 221.3,238.2 222.9,239.0 222.1,240.0 222.1,241.0 221.9,242.0 221.5,243.0" fill="none" stroke="#000" stroke-width="1.3" stroke-linejoin="round"/><polyline points="226.7,84.2 221.7,84.6 226.9,85.1 226.8,86.6 230.1,87.0 226.5,87.5 228.2,89.2 224.7,89.6 228.4,90.1 227.6,91.2 227.0,92.8 229.0,93.2 228.3,93.6 227.5,94.1 226.2,95.5 226.5,96.5 224.7,97.5 227.0,97.9 225.5,98.4 227.0,100.0 229.9,100.4 228.7,100.8 227.4,101.3 228.2,102.5 220.1,102.9 227.9,103.4 229.3,105.0 222.1,105.4 228.4,105.9 226.2,107.5 226.4,109.2 226.1,110.3 225.5,111.8 226.6,113.5 226.3,114.5 228.0,116.0 227.4,117.0 231.3,117.4 229.8,117.8 227.4,118.3 226.8,119.6 227.0,121.4 227.4,122.5 231.5,122.9 227.8,123.4 226.5,124.6 227.9,125.0 227.6,125.4 227.3,125.9 227.2,127.2 228.4,127.6 227.8,128.0 227.1,128.5 224.8,129.5 225.2,130.4 219.4,130.8 225.7,131.3 226.4,132.2 218.5,132.6 226.7,133.1 227.4,134.5 227.8,135.6 228.5,137.1 228.6,138.8 220.1,139.2 228.5,139.7 226.4,140.9 226.6,142.5 225.3,143.5 227.2,143.9 226.7,144.3 225.8,144.8 225.6,146.0 219.2,146.4 225.4,146.9 227.8,148.7 228.7,150.4 227.4,151.3 227.3,152.8 227.9,154.0 227.4,155.4 230.4,155.8 227.4,156.3 227.0,157.6 227.4,159.3 227.1,160.4 226.1,161.6 225.1,163.2 226.5,164.8 227.7,166.1 227.4,167.2 227.2,168.3 229.1,169.3 228.6,171.0 227.9,172.2 229.5,172.6 227.5,173.1 226.6,174.8 227.3,175.2 227.0,175.6 226.4,176.1 225.1,177.3 226.3,178.6 227.5,180.2 227.7,182.0 229.4,182.4 228.8,182.8 228.5,183.3 228.3,184.4 222.6,184.8 228.5,185.3 228.4,186.2 228.0,187.9 226.3,189.2 225.5,190.2 225.2,191.3 225.9,192.3 221.3,192.7 226.6,193.2 225.9,194.5 222.0,194.9 225.9,195.4 227.4,196.7 219.4,197.1 227.4,197.6 227.0,199.0 228.3,199.4 227.1,199.9 227.8,201.5 231.3,201.9 227.7,202.4 227.7,204.2 226.9,205.5 225.9,206.9 226.3,208.7 230.3,209.1 226.6,209.6 225.4,210.6 225.7,211.5 217.0,211.9 225.8,212.4 227.2,214.0 228.0,214.9 228.4,216.1 223.7,216.5 227.9,217.0 228.3,218.1 228.4,219.2 227.5,220.9 225.6,222.0 225.6,223.8 223.8,225.4 226.4,226.4 226.7,227.6 227.6,229.2 227.6,230.6 227.4,232.1 228.4,233.3 227.5,234.9 226.6,236.7 220.4,237.1 226.6,237.6 226.5,239.2 226.6,240.9 226.7,242.6 220.5,243.0 225.1,243.5 216.4,243.8" fill="none" stroke="#ff00ff" stroke-width="1.1" /><line x1="288.5" y1="45" x2="288.5" y2="206" stroke="#c4c4c4" stroke-width="0.9"/><line x1="305.5" y1="45" x2="305.5" y2="206" stroke="#c4c4c4" stroke-width="0.9"/><line x1="272" y1="83.5" x2="322.7" y2="83.5" stroke="#c4c4c4" stroke-width="0.9"/><line x1="272.5" y1="62.1" x2="288.4" y2="62.1" stroke="#3a3af0" stroke-width="1.35"/><line x1="305.90000000000003" y1="62.1" x2="322.7" y2="62.1" stroke="#f060f0" stroke-width="1.35"/><line x1="272.5" y1="81.4" x2="288.4" y2="81.4" stroke="#f03a3a" stroke-width="1.35"/><line x1="305.90000000000003" y1="81.4" x2="322.7" y2="81.4" stroke="#222" stroke-width="1.35"/><text x="274.8" y="56.8" font-size="7.5" fill="#111">GR</text><text x="309.3" y="56.8" font-size="7.5" fill="#111">AC</text><text x="275.9" y="75.8" font-size="7.5" fill="#111">SP</text><text x="308.4" y="75.8" font-size="7.5" fill="#111">ILD</text><text x="286" y="41.75" font-size="11" fill="#111" textLength="21.9" lengthAdjust="spacingAndGlyphs">Z118</text><text transform="translate(294.0,53.8) rotate(90)" font-size="9" fill="#111" textLength="21.200000000000003" lengthAdjust="spacingAndGlyphs">DEPTH</text><text transform="translate(294.84999999999997,130.4) rotate(90)" font-size="6.3" font-weight="bold" fill="#111" textLength="12.400000000000006" lengthAdjust="spacingAndGlyphs">1300</text><line x1="301.1" y1="137.5" x2="305.1" y2="137.5" stroke="#aaa" stroke-width="0.6"/><text transform="translate(294.84999999999997,184.5) rotate(90)" font-size="6.3" font-weight="bold" fill="#111" textLength="13.800000000000011" lengthAdjust="spacingAndGlyphs">1350</text><line x1="301.1" y1="191.5" x2="305.1" y2="191.5" stroke="#aaa" stroke-width="0.6"/><polyline points="278.5,84.4 278.9,85.9 279.0,87.4 279.1,88.9 279.3,90.4 279.2,91.9 279.1,93.4 279.3,94.9 279.2,96.4 279.2,97.9 279.4,99.4 279.2,100.9 279.3,102.4 279.2,103.9 279.1,105.4 279.1,106.9 279.3,108.4 279.1,109.9 279.2,111.4 279.1,112.9 279.1,114.4 279.1,115.9 279.2,117.4 279.2,118.9 279.2,120.4 279.0,121.9 278.9,123.4 278.9,124.9 278.9,126.4 278.9,127.9 278.8,129.4 278.7,130.9 278.6,132.4 278.5,133.9 278.7,135.4 278.8,136.9 278.9,138.4 278.9,139.9 278.9,141.4 278.9,142.9 278.9,144.4 278.8,145.9 279.0,147.4 279.0,148.9 279.1,150.4 278.9,151.9 279.0,153.4 278.9,154.9 279.0,156.4 279.1,157.9 279.2,159.4 279.0,160.9 279.2,162.4 279.2,163.9 279.1,165.4 279.2,166.9 279.3,168.4 279.3,169.9 279.0,171.4 279.2,172.9 279.3,174.4 279.2,175.9 279.3,177.4 279.2,178.9 279.1,180.4 278.8,181.9 278.8,183.4 279.0,184.9 278.8,186.4 279.0,187.9 278.9,189.4 278.9,190.9 278.8,192.4 278.8,193.9 278.9,195.4 278.6,196.9 278.9,198.4 278.7,199.9 278.6,201.4 278.8,202.9 278.8,204.4 278.8,205.9" fill="none" stroke="#ff2000" stroke-width="1.0" /><polyline points="280.0,84.4 278.4,85.4 279.8,86.7 278.4,89.0 279.7,90.5 278.8,92.1 280.3,94.3 278.8,95.3 280.4,97.5 278.8,99.1 280.6,100.4 279.0,102.6 280.8,104.7 278.8,105.9 280.4,106.9 278.8,108.4 279.8,110.8 278.5,112.5 280.0,113.6 278.7,115.6 280.4,117.1 278.5,119.1 279.7,120.4 278.0,122.0 279.2,123.5 277.7,124.7 279.3,127.0 277.6,129.0 278.3,131.3 276.3,133.0 277.9,134.9 276.2,135.9 277.2,138.3 275.3,139.3 276.3,140.9 274.6,142.2 276.8,144.1 275.9,146.1 277.1,147.4 276.4,149.6 278.1,150.8 276.1,152.9 278.0,153.9 276.4,156.0 277.9,157.3 275.7,159.3 277.3,161.1 275.7,163.1 277.3,164.9 276.2,166.2 276.4,167.4 275.4,170.0 275.9,171.9 275.0,174.5 275.7,175.9 275.3,177.8 276.4,180.4 275.8,182.7 276.5,184.4 276.1,186.5 276.7,189.2 275.9,190.8 276.7,192.5 276.3,194.2 277.0,196.5 276.6,197.9 277.0,199.7 276.4,200.9 276.7,203.2 276.0,205.4 274.0,205.7" fill="none" stroke="#0000ff" stroke-width="1.15" stroke-linejoin="round"/><polyline points="311.6,84.4 311.2,85.4 311.3,86.4 311.5,87.4 312.1,88.4 312.3,89.4 312.6,90.4 313.3,91.4 314.1,92.4 314.8,93.4 314.6,94.4 313.5,95.4 312.5,96.4 312.0,97.4 312.2,98.4 312.6,99.4 312.5,100.4 311.9,101.4 311.4,102.4 311.3,103.4 311.2,104.4 310.8,105.4 310.4,106.4 311.8,107.2 310.4,108.0 311.8,109.0 313.1,110.0 313.6,111.0 313.4,112.0 312.9,113.0 312.8,114.0 313.1,115.0 313.6,116.0 313.5,117.0 313.2,118.0 313.4,119.0 313.5,120.0 313.5,121.0 312.8,122.0 311.5,123.0 310.1,124.0 310.3,125.0 310.9,126.0 311.5,127.0 311.8,128.0 311.6,129.0 311.3,130.0 311.7,131.0 312.1,132.0 312.2,133.0 312.2,134.0 312.4,135.0 313.3,136.0 314.5,137.0 314.9,138.0 314.5,139.0 313.5,140.0 312.5,141.0 312.1,142.0 312.5,143.0 312.3,144.0 312.0,145.0 311.6,146.0 311.6,147.0 311.6,148.0 311.3,149.0 310.6,150.0 310.0,151.0 310.2,152.0 311.2,153.0 312.4,154.0 313.4,155.0 313.3,156.0 313.0,157.0 312.9,158.0 313.2,159.0 313.4,160.0 313.3,161.0 312.9,162.0 313.1,163.0 313.6,164.0 313.5,165.0 313.1,166.0 311.9,167.0 310.6,168.0 310.2,169.0 310.6,170.0 311.0,171.0 311.3,172.0 311.3,173.0 311.5,174.0 312.0,175.0 312.2,176.0 312.3,177.0 312.1,178.0 311.9,179.0 312.8,180.0 313.9,181.0 314.7,182.0 314.6,183.0 313.8,184.0 312.8,185.0 312.6,186.0 312.4,187.0 312.2,188.0 311.9,189.0 311.3,190.0 311.6,191.0 311.7,192.0 311.9,193.0 310.8,193.8 311.9,194.6 310.0,195.6 310.2,196.6 311.4,197.6 312.7,198.6 313.2,199.6 313.4,200.6 313.4,201.6 313.4,202.6 313.7,203.6 313.5,204.6 313.1,205.6" fill="none" stroke="#000" stroke-width="1.3" stroke-linejoin="round"/><polyline points="317.0,84.4 316.8,85.6 316.3,87.0 320.1,87.4 317.1,87.9 317.3,88.8 318.2,90.5 318.1,92.3 320.8,92.7 319.6,93.1 317.7,93.6 317.7,95.2 320.7,95.6 317.9,96.1 317.3,97.6 315.2,99.3 315.8,101.0 316.6,102.7 315.3,103.1 316.7,103.6 317.7,104.9 318.6,106.7 317.7,107.9 317.3,109.0 317.7,110.8 316.6,112.3 317.6,113.6 321.7,114.0 316.8,114.5 317.2,115.5 316.4,116.5 315.9,116.9 316.2,117.4 315.2,118.7 317.5,119.1 314.9,119.6 316.7,121.2 318.8,121.6 316.4,122.1 316.8,123.3 319.3,125.0 318.6,126.0 317.2,127.5 317.9,128.6 321.6,129.0 317.7,129.5 316.7,131.1 315.9,132.5 317.4,134.2 317.4,135.4 316.2,136.6 315.1,137.0 316.1,137.5 315.7,138.4 316.7,139.5 317.6,141.1 317.8,142.2 319.1,143.3 320.1,143.7 318.4,144.2 318.5,145.4 317.2,145.8 318.0,146.3 317.4,148.1 315.5,149.4 315.2,151.1 316.7,152.8 317.3,153.2 316.9,153.7 317.8,154.8 314.8,156.4 316.3,157.8 316.2,158.8 317.7,159.9 318.3,161.7 318.5,163.3 316.7,163.7 317.7,164.2 317.7,165.3 322.0,165.7 320.3,166.1 317.4,166.6 316.9,167.8 317.5,168.2 317.1,168.6 316.6,169.1 315.2,170.6 315.2,171.5 316.7,172.7 318.4,174.1 316.9,175.5 320.3,175.9 319.0,176.3 317.3,176.8 318.1,177.8 318.0,178.7 317.6,180.3 316.9,180.7 318.2,181.2 317.4,182.8 321.4,183.2 317.9,183.7 317.3,185.0 315.7,186.5 315.1,187.9 315.8,189.1 316.6,190.6 317.0,191.6 317.3,193.2 318.1,194.9 317.9,196.1 317.4,197.9 317.7,199.2 317.4,200.6 317.4,202.3 317.6,203.9 317.0,205.2 317.7,205.6 316.4,206.1 306.6,206.4" fill="none" stroke="#ff00ff" stroke-width="1.1" /><line x1="379.5" y1="45" x2="379.5" y2="206" stroke="#c4c4c4" stroke-width="0.9"/><line x1="396.5" y1="45" x2="396.5" y2="206" stroke="#c4c4c4" stroke-width="0.9"/><line x1="362.6" y1="83.5" x2="413" y2="83.5" stroke="#c4c4c4" stroke-width="0.9"/><line x1="363.1" y1="62.1" x2="379.0" y2="62.1" stroke="#3a3af0" stroke-width="1.35"/><line x1="396.6" y1="62.1" x2="413" y2="62.1" stroke="#f060f0" stroke-width="1.35"/><line x1="363.1" y1="81.4" x2="379.0" y2="81.4" stroke="#f03a3a" stroke-width="1.35"/><line x1="396.6" y1="81.4" x2="413" y2="81.4" stroke="#222" stroke-width="1.35"/><text x="365.3" y="56.8" font-size="7.5" fill="#111">GR</text><text x="400.2" y="56.8" font-size="7.5" fill="#111">AC</text><text x="366.5" y="75.8" font-size="7.5" fill="#111">SP</text><text x="399" y="75.8" font-size="7.5" fill="#111">ILD</text><text x="379.2" y="41.75" font-size="11" fill="#111" textLength="17.2" lengthAdjust="spacingAndGlyphs">Z26</text><text transform="translate(384.59999999999997,53.8) rotate(90)" font-size="9" fill="#111" textLength="21.200000000000003" lengthAdjust="spacingAndGlyphs">DEPTH</text><text transform="translate(385.5,113) rotate(90)" font-size="6.3" font-weight="bold" fill="#111" textLength="14" lengthAdjust="spacingAndGlyphs">1250</text><line x1="391.8" y1="120.5" x2="395.8" y2="120.5" stroke="#aaa" stroke-width="0.6"/><text transform="translate(385.5,171.5) rotate(90)" font-size="6.3" font-weight="bold" fill="#111" textLength="12.5" lengthAdjust="spacingAndGlyphs">1300</text><line x1="391.8" y1="178.5" x2="395.8" y2="178.5" stroke="#aaa" stroke-width="0.6"/><polyline points="370.0,84.4 370.2,85.9 370.1,87.4 370.1,88.9 370.3,90.4 370.4,91.9 370.2,93.4 370.6,94.9 370.5,96.4 370.4,97.9 370.6,99.4 370.7,100.9 370.6,102.4 370.6,103.9 370.6,105.4 370.5,106.9 370.7,108.4 370.9,109.9 370.9,111.4 371.2,112.9 371.1,114.4 371.2,115.9 371.0,117.4 371.1,118.9 371.0,120.4 370.8,121.9 370.2,123.4 370.1,124.9 369.9,126.4 369.9,127.9 369.6,129.4 369.8,130.9 369.8,132.4 369.7,133.9 370.1,135.4 370.2,136.9 370.1,138.4 370.5,139.9 370.5,141.4 370.5,142.9 370.5,144.4 370.6,145.9 370.4,147.4 370.6,148.9 370.8,150.4 370.6,151.9 370.6,153.4 370.5,154.9 370.7,156.4 371.0,157.9 370.8,159.4 370.9,160.9 371.0,162.4 370.9,163.9 370.9,165.4 370.9,166.9 370.9,168.4 370.7,169.9 370.7,171.4 370.8,172.9 370.5,174.4 370.5,175.9 370.3,177.4 370.3,178.9 370.3,180.4 370.0,181.9 370.0,183.4 369.7,184.9 369.9,186.4 369.7,187.9 370.0,189.4 369.9,190.9 369.9,192.4 370.0,193.9 370.2,195.4 370.3,196.9 370.5,198.4 370.8,199.9 370.8,201.4 371.1,202.9 371.0,204.4 371.1,205.9" fill="none" stroke="#ff2000" stroke-width="1.0" /><polyline points="368.6,84.4 366.0,86.4 369.6,88.3 367.4,90.2 370.1,91.9 368.1,93.0 371.5,95.3 368.7,96.4 370.5,97.8 367.9,99.5 369.9,101.0 368.5,102.1 370.8,104.1 368.4,105.4 372.0,107.7 369.7,109.5 372.2,111.6 369.8,112.7 371.7,113.8 368.8,115.7 370.5,118.0 367.2,119.1 369.4,120.5 366.8,121.7 368.9,123.9 367.4,125.4 369.8,126.6 366.1,128.6 368.5,130.4 365.8,132.5 367.9,134.6 367.3,136.4 370.3,138.1 369.8,140.3 371.8,142.3 370.4,143.8 371.5,145.0 369.7,147.2 371.4,148.7 369.6,149.9 371.3,151.2 369.6,153.1 371.7,155.4 367.2,157.1 369.2,159.0 365.4,160.3 367.8,162.5 365.5,164.1 367.3,166.5 367.3,168.7 368.9,171.4 368.6,173.2 369.6,175.9 369.4,178.5 371.2,180.7 370.9,183.1 371.5,184.4 370.7,186.2 370.5,188.6 369.1,189.9 369.2,192.0 367.7,194.2 369.1,196.8 367.7,198.8 368.9,200.4 367.9,202.7 368.5,205.5 364.0,205.8" fill="none" stroke="#0000ff" stroke-width="1.15" stroke-linejoin="round"/><polyline points="409.1,84.4 409.2,85.4 409.1,86.4 408.9,87.4 408.9,88.4 408.9,89.4 409.0,90.4 408.7,91.4 408.3,92.4 408.1,93.4 408.1,94.4 408.5,95.4 408.4,96.4 408.3,97.4 408.0,98.4 407.7,99.4 407.8,100.4 407.9,101.4 408.0,102.4 407.6,103.4 407.3,104.4 407.5,105.4 408.0,106.4 406.2,107.2 408.0,108.0 409.0,109.0 410.6,109.8 409.0,110.6 409.1,111.6 409.3,112.6 409.6,113.6 409.6,114.6 408.9,115.6 408.4,116.6 407.9,117.6 407.7,118.6 407.7,119.6 407.6,120.6 407.4,121.6 407.1,122.6 407.2,123.6 407.5,124.6 408.1,125.6 408.4,126.6 408.5,127.6 408.5,128.6 408.5,129.6 408.6,130.6 409.1,131.6 408.9,132.6 408.8,133.6 408.6,134.6 408.3,135.6 408.8,136.6 409.0,137.6 409.0,138.6 408.8,139.6 408.4,140.6 408.2,141.6 408.1,142.6 410.2,143.4 408.1,144.2 407.6,145.2 407.2,146.2 407.0,147.2 407.2,148.2 407.7,149.2 407.8,150.2 409.1,151.0 407.8,151.8 408.4,152.8 408.5,153.8 409.3,154.8 409.6,155.8 409.6,156.8 409.5,157.8 409.0,158.8 408.7,159.8 408.7,160.8 408.6,161.8 408.2,162.8 407.8,163.8 407.3,164.8 407.2,165.8 407.6,166.8 408.1,167.8 408.1,168.8 407.8,169.8 407.8,170.8 407.9,171.8 408.3,172.8 408.4,173.8 408.6,174.8 408.3,175.8 408.2,176.8 408.5,177.8 408.8,178.8 409.9,179.6 408.8,180.4 409.1,181.4 408.9,182.4 408.8,183.4 409.0,184.4 408.9,185.4 408.7,186.4 408.1,187.4 407.5,188.4 407.1,189.4 407.3,190.4 407.5,191.4 407.2,192.4 407.4,193.4 407.3,194.4 407.7,195.4 408.3,196.4 408.9,197.4 409.1,198.4 409.4,199.4 409.0,200.4 409.3,201.4 409.1,202.4 409.2,203.4 409.0,204.4 408.5,205.4" fill="none" stroke="#000" stroke-width="1.3" stroke-linejoin="round"/><polyline points="407.3,84.4 405.6,86.1 404.9,87.4 400.5,87.8 404.9,88.3 406.4,89.5 406.1,91.0 404.8,92.0 404.3,93.2 403.9,94.6 403.5,95.8 403.8,96.8 405.3,98.3 404.8,99.7 404.9,101.1 406.4,101.5 405.8,101.9 404.7,102.4 404.8,103.5 406.6,103.9 405.9,104.3 404.6,104.8 405.9,105.8 406.6,106.2 406.3,106.6 406.0,107.1 407.1,108.2 405.1,110.0 402.4,110.4 405.3,110.9 405.4,112.6 407.1,113.0 406.4,113.4 405.2,113.9 404.7,115.4 404.1,117.0 403.4,118.2 404.5,118.6 404.2,119.0 403.6,119.5 403.8,120.5 404.6,121.8 404.6,123.5 405.6,124.8 407.3,125.2 406.0,125.7 404.4,127.2 405.5,128.2 404.1,128.6 405.3,129.1 406.9,130.6 407.0,131.7 408.3,132.1 407.5,132.5 406.3,133.0 404.4,134.0 405.7,135.5 404.4,137.1 404.3,138.7 401.3,139.1 404.2,139.6 404.4,140.7 403.9,141.8 404.6,142.2 403.3,142.7 403.7,144.2 405.4,145.7 405.6,147.0 407.6,147.4 405.9,147.9 404.8,149.6 405.0,151.2 407.1,152.4 408.0,152.8 407.4,153.2 406.8,153.7 405.5,155.4 404.9,156.9 406.3,157.3 404.8,157.8 404.1,159.2 405.8,159.6 404.4,160.1 404.1,161.8 404.1,163.2 405.0,164.6 403.8,165.7 402.9,166.9 406.1,168.3 407.0,170.0 406.1,171.3 406.5,171.7 406.3,172.1 405.5,172.6 405.5,173.6 404.8,175.0 406.9,176.3 405.8,178.0 404.8,179.7 405.1,181.4 403.6,182.9 403.9,183.3 403.8,183.8 404.5,184.9 404.7,185.3 404.5,185.7 404.3,186.2 403.8,187.9 404.0,189.2 396.8,189.6 404.1,190.1 405.6,191.7 406.6,193.1 405.5,194.0 405.6,195.1 406.7,195.5 405.9,196.0 405.8,197.2 400.0,197.6 405.8,198.1 405.6,199.8 406.3,200.2 404.9,200.7 406.3,202.3 403.9,204.0 402.3,205.8 397.3,206.1" fill="none" stroke="#ff00ff" stroke-width="1.1" /><line x1="469.5" y1="45.2" x2="469.5" y2="200" stroke="#c4c4c4" stroke-width="0.9"/><line x1="486.5" y1="45.2" x2="486.5" y2="200" stroke="#c4c4c4" stroke-width="0.9"/><line x1="453" y1="83.5" x2="504" y2="83.5" stroke="#c4c4c4" stroke-width="0.9"/><line x1="453.5" y1="62.3" x2="469.3" y2="62.3" stroke="#3a3af0" stroke-width="1.35"/><line x1="486.7" y1="62.3" x2="504" y2="62.3" stroke="#f060f0" stroke-width="1.35"/><line x1="453.5" y1="82.1" x2="469.3" y2="82.1" stroke="#f07a7a" stroke-width="1.35"/><line x1="486.7" y1="82.1" x2="504" y2="82.1" stroke="#555" stroke-width="1.35"/><text x="454.8" y="59.4" font-size="8.5" fill="#111">GR</text><text x="489.7" y="59.4" font-size="8.5" fill="#111">AC</text><text x="456.2" y="78.5" font-size="8.5" fill="#111">SP</text><text x="488.8" y="78.5" font-size="8.5" fill="#111">ILD</text><text x="468.1" y="41.8" font-size="11" fill="#111" textLength="19.9" lengthAdjust="spacingAndGlyphs">J395</text><text transform="translate(475.59999999999997,50.7) rotate(90)" font-size="9" fill="#111" textLength="27.39999999999999" lengthAdjust="spacingAndGlyphs">DEPTH</text><text transform="translate(475.7,104.6) rotate(90)" font-size="6.3" font-weight="bold" fill="#111" textLength="12.200000000000003" lengthAdjust="spacingAndGlyphs">1350</text><line x1="481.9" y1="111.5" x2="485.9" y2="111.5" stroke="#aaa" stroke-width="0.6"/><text transform="translate(475.7,161) rotate(90)" font-size="6.3" font-weight="bold" fill="#111" textLength="12" lengthAdjust="spacingAndGlyphs">1400</text><line x1="481.9" y1="167.5" x2="485.9" y2="167.5" stroke="#aaa" stroke-width="0.6"/><polyline points="461.5,84.6 461.5,86.1 461.5,87.6 461.6,89.1 461.8,90.6 462.4,92.1 462.5,93.6 462.6,95.1 462.7,96.6 462.8,98.1 463.0,99.6 462.9,101.1 462.9,102.6 463.1,104.1 463.4,105.6 463.5,107.1 464.0,108.6 464.1,110.1 464.1,111.6 464.4,113.1 464.1,114.6 464.3,116.1 463.8,117.6 463.7,119.1 463.4,120.6 463.4,122.1 463.0,123.6 462.9,125.1 462.9,126.6 462.6,128.1 462.6,129.6 462.4,131.1 462.2,132.6 462.0,134.1 461.7,135.6 461.5,137.1 461.4,138.6 461.4,140.1 461.4,141.6 461.6,143.1 461.7,144.6 461.9,146.1 462.2,147.6 462.3,149.1 462.3,150.6 462.5,152.1 462.4,153.6 462.7,155.1 462.7,156.6 463.0,158.1 463.0,159.6 463.5,161.1 463.8,162.6 464.0,164.1 464.2,165.6 464.1,167.1 464.5,168.6 463.8,170.1 463.9,171.6 463.6,173.1 463.6,174.6 463.7,176.1 463.4,177.6 463.3,179.1 463.3,180.6 463.4,182.1 463.0,183.6 463.0,185.1 462.7,186.6 462.3,188.1 461.9,189.6 461.9,191.1 461.7,192.6 461.6,194.1 461.5,195.6 461.4,197.1 461.7,198.6" fill="none" stroke="#ff2000" stroke-width="1.0" /><polyline points="461.0,84.6 457.9,85.8 460.7,86.9 458.1,88.8 462.0,90.1 460.7,92.0 464.5,94.1 460.2,96.4 462.0,98.5 456.4,99.8 459.2,101.1 454.0,103.3 457.6,105.4 454.9,107.0 460.1,108.3 456.2,109.9 459.6,111.6 456.9,113.8 462.1,116.1 459.0,117.6 461.9,118.9 459.2,120.6 464.1,122.6 458.4,124.0 462.8,125.5 458.6,126.9 461.5,128.5 459.0,130.3 461.4,131.8 457.0,133.9 461.1,135.8 457.2,137.2 460.6,138.8 456.9,140.5 459.2,142.0 456.2,143.1 458.4,145.1 454.5,147.1 460.0,149.0 457.9,151.2 463.3,152.2 460.0,153.9 464.5,155.9 459.9,158.2 463.7,159.5 459.5,161.5 461.5,163.5 457.4,165.4 460.2,166.9 458.1,168.4 460.7,169.9 458.9,172.1 460.8,173.5 456.9,176.3 458.0,178.8 455.8,180.4 458.1,181.7 457.5,184.1 460.6,186.8 459.9,188.4 463.1,190.5 460.5,191.8 463.2,193.1 461.0,195.3 461.6,197.9 458.7,199.9 454.0,200.2" fill="none" stroke="#0000ff" stroke-width="1.15" stroke-linejoin="round"/><polyline points="494.2,84.6 494.3,85.6 494.2,86.6 493.9,87.6 493.7,88.6 493.6,89.6 493.7,90.6 494.3,91.6 494.9,92.6 495.3,93.6 495.6,94.6 495.5,95.6 495.2,96.6 494.9,97.6 494.9,98.6 495.1,99.6 495.5,100.6 496.0,101.6 496.1,102.6 494.9,103.4 496.1,104.2 495.5,105.2 494.9,106.2 494.3,107.2 494.1,108.2 494.3,109.2 494.7,110.2 495.0,111.2 496.8,112.0 495.0,112.8 494.4,113.8 493.8,114.8 493.2,115.8 493.1,116.8 493.2,117.8 493.6,118.8 494.4,119.8 494.6,120.8 494.8,121.8 494.6,122.8 494.0,123.8 493.9,124.8 493.9,125.8 494.2,126.8 494.8,127.8 496.2,128.6 494.8,129.4 496.0,130.4 495.9,131.4 495.7,132.4 495.1,133.4 494.9,134.4 495.1,135.4 495.2,136.4 495.5,137.4 495.9,138.4 496.0,139.4 495.6,140.4 495.0,141.4 494.4,142.4 494.0,143.4 493.8,144.4 494.1,145.4 494.4,146.4 494.5,147.4 494.5,148.4 494.5,149.4 493.8,150.4 493.5,151.4 493.2,152.4 493.2,153.4 493.8,154.4 494.2,155.4 494.6,156.4 494.9,157.4 494.8,158.4 494.7,159.4 494.5,160.4 494.7,161.4 494.8,162.4 495.1,163.4 495.5,164.4 495.8,165.4 495.8,166.4 495.9,167.4 495.7,168.4 495.5,169.4 495.3,170.4 495.2,171.4 495.1,172.4 495.2,173.4 495.1,174.4 495.2,175.4 494.8,176.4 494.7,177.4 494.2,178.4 494.1,179.4 493.8,180.4 493.7,181.4 493.8,182.4 493.9,183.4 494.0,184.4 494.0,185.4 494.0,186.4 494.0,187.4 494.1,188.4 494.0,189.4 494.1,190.4 494.5,191.4 494.4,192.4 494.8,193.4 495.0,194.4 495.4,195.4 495.5,196.4 495.5,197.4 495.4,198.4 495.3,199.4" fill="none" stroke="#000" stroke-width="1.3" stroke-linejoin="round"/><polyline points="493.6,84.6 493.4,85.7 494.0,87.1 496.7,87.5 495.6,87.9 494.2,88.4 492.8,89.9 493.7,91.7 494.3,92.7 489.5,93.1 494.2,93.6 495.6,94.5 490.7,94.9 494.8,95.4 494.3,96.3 496.1,96.7 495.2,97.2 494.0,98.3 492.4,99.7 487.9,100.1 493.0,100.6 492.8,101.6 492.4,103.1 493.7,103.5 493.2,103.9 492.0,104.4 492.0,106.2 493.9,107.7 493.6,109.1 488.7,109.5 493.2,110.0 493.4,111.0 496.3,111.4 493.4,111.9 495.4,113.3 495.7,114.6 495.2,115.9 499.0,116.3 497.5,116.7 495.3,117.2 493.1,118.2 493.1,119.4 489.1,119.8 493.5,120.3 491.8,122.0 492.8,123.4 493.8,123.8 493.4,124.2 492.7,124.7 492.8,126.2 490.8,126.6 492.0,127.1 492.8,128.2 494.8,128.6 494.0,129.0 493.2,129.5 492.7,130.8 493.9,131.2 493.5,131.6 493.2,132.1 493.9,133.1 495.1,134.1 495.5,135.7 494.0,137.0 497.8,137.4 496.4,137.8 494.6,138.3 493.2,140.0 495.0,140.4 494.3,140.8 493.5,141.3 493.3,142.9 493.1,144.4 495.2,144.8 492.7,145.3 492.5,146.2 492.9,148.0 492.7,149.4 496.0,149.8 492.6,150.3 493.0,152.0 494.7,153.3 497.1,153.7 494.7,154.2 495.9,155.6 494.3,157.3 496.2,157.7 495.4,158.1 493.8,158.6 493.2,159.8 493.8,161.0 495.1,162.3 495.4,162.7 494.5,163.2 492.7,164.2 492.3,165.8 494.5,166.2 493.6,166.6 492.3,167.1 492.7,168.3 492.5,170.0 493.8,171.7 493.9,173.5 494.0,174.5 494.7,175.8 493.7,177.2 495.9,177.6 494.1,178.1 493.8,179.6 496.8,180.0 494.4,180.5 494.8,182.1 495.0,183.5 492.4,183.9 493.9,184.4 492.7,186.0 491.8,187.6 494.5,188.0 493.5,188.4 492.2,188.9 492.8,190.4 493.4,192.0 493.4,193.5 493.6,194.5 492.9,194.9 494.2,195.4 493.8,196.9 494.3,198.5 495.9,198.9 494.2,199.4 487.4,199.7" fill="none" stroke="#ff00ff" stroke-width="1.1" /><line x1="560.5" y1="45.2" x2="560.5" y2="192" stroke="#c4c4c4" stroke-width="0.9"/><line x1="577.5" y1="45.2" x2="577.5" y2="192" stroke="#c4c4c4" stroke-width="0.9"/><line x1="544" y1="83.5" x2="594" y2="83.5" stroke="#c4c4c4" stroke-width="0.9"/><line x1="544.5" y1="62.3" x2="560.2" y2="62.3" stroke="#3a3af0" stroke-width="1.35"/><line x1="577.6999999999999" y1="62.3" x2="594" y2="62.3" stroke="#f060f0" stroke-width="1.35"/><line x1="544.5" y1="82.1" x2="560.2" y2="82.1" stroke="#f07a7a" stroke-width="1.35"/><line x1="577.6999999999999" y1="82.1" x2="594" y2="82.1" stroke="#555" stroke-width="1.35"/><text x="545.7" y="59.4" font-size="8.5" fill="#111">GR</text><text x="580.6" y="59.4" font-size="8.5" fill="#111">AC</text><text x="547.2" y="78.5" font-size="8.5" fill="#111">SP</text><text x="579.8" y="78.5" font-size="8.5" fill="#111">ILD</text><text x="559.1" y="41.8" font-size="11" fill="#111" textLength="19.4" lengthAdjust="spacingAndGlyphs">J793</text><text transform="translate(566.6,50.7) rotate(90)" font-size="9" fill="#111" textLength="27.39999999999999" lengthAdjust="spacingAndGlyphs">DEPTH</text><text transform="translate(566.6500000000001,102.6) rotate(90)" font-size="6.3" font-weight="bold" fill="#111" textLength="12.400000000000006" lengthAdjust="spacingAndGlyphs">1100</text><line x1="572.9" y1="109.5" x2="576.9" y2="109.5" stroke="#aaa" stroke-width="0.6"/><text transform="translate(566.6500000000001,158) rotate(90)" font-size="6.3" font-weight="bold" fill="#111" textLength="13" lengthAdjust="spacingAndGlyphs">1150</text><line x1="572.9" y1="164.5" x2="576.9" y2="164.5" stroke="#aaa" stroke-width="0.6"/><polyline points="552.4,84.6 552.2,86.1 552.2,87.6 552.3,89.1 552.4,90.6 552.3,92.1 552.3,93.6 552.3,95.1 552.2,96.6 551.8,98.1 551.5,99.6 551.5,101.1 551.2,102.6 550.9,104.1 551.0,105.6 551.1,107.1 550.9,108.6 551.1,110.1 551.3,111.6 551.2,113.1 551.2,114.6 551.4,116.1 551.3,117.6 551.3,119.1 551.2,120.6 551.4,122.1 551.5,123.6 551.6,125.1 551.7,126.6 551.7,128.1 551.9,129.6 551.8,131.1 551.9,132.6 551.9,134.1 551.7,135.6 551.5,137.1 551.5,138.6 551.6,140.1 551.8,141.6 551.6,143.1 551.9,144.6 552.2,146.1 552.2,147.6 552.4,149.1 552.6,150.6 552.5,152.1 552.4,153.6 552.4,155.1 552.4,156.6 552.5,158.1 552.5,159.6 552.6,161.1 552.5,162.6 552.7,164.1 552.6,165.6 552.4,167.1 552.3,168.6 552.0,170.1 551.8,171.6 551.5,173.1 551.3,174.6 551.2,176.1 551.4,177.6 551.3,179.1 551.3,180.6 551.3,182.1 551.4,183.6 551.3,185.1 551.5,186.6 551.4,188.1 551.3,189.6 551.3,191.1" fill="none" stroke="#ff2000" stroke-width="1.0" /><polyline points="549.0,84.6 546.4,86.0 551.1,87.6 547.2,88.7 549.3,90.0 548.0,91.1 550.4,92.7 548.0,94.4 551.3,96.3 549.5,98.7 552.4,100.4 548.8,102.0 553.0,103.2 549.5,104.8 551.8,106.6 548.7,108.0 549.9,110.3 546.4,111.5 549.2,113.3 545.8,114.7 549.6,116.2 547.1,118.5 549.4,120.1 546.3,122.0 549.3,123.6 545.5,125.0 549.5,126.6 545.3,128.1 548.6,129.2 546.5,131.5 551.1,133.5 549.4,135.1 552.7,136.4 550.0,138.3 551.8,140.2 549.3,142.1 550.9,143.8 548.3,145.6 550.8,147.3 547.9,148.4 551.1,150.4 547.6,152.3 550.7,154.1 547.1,155.7 550.6,157.5 546.3,159.0 548.8,161.3 545.6,163.3 547.5,165.1 546.5,167.4 549.9,169.8 549.5,172.3 550.9,174.9 548.3,176.1 550.6,178.0 548.1,180.3 550.3,182.9 549.9,185.5 551.8,186.8 550.7,188.1 551.2,190.3 549.2,191.7 545.0,192.0" fill="none" stroke="#0000ff" stroke-width="1.15" stroke-linejoin="round"/><polyline points="586.3,84.6 587.1,85.6 587.5,86.6 587.8,87.6 587.4,88.6 587.0,89.6 586.4,90.6 586.1,91.6 586.0,92.6 586.1,93.6 586.3,94.6 586.5,95.6 586.3,96.6 586.2,97.6 585.7,98.6 585.7,99.6 586.1,100.6 586.7,101.6 587.3,102.6 587.6,103.6 587.8,104.6 587.4,105.6 586.7,106.6 586.2,107.6 586.0,108.6 586.0,109.6 586.2,110.6 586.4,111.6 586.3,112.6 586.0,113.6 585.8,114.6 585.7,115.6 586.1,116.6 586.6,117.6 587.1,118.6 587.4,119.6 587.5,120.6 587.2,121.6 586.9,122.6 586.6,123.6 586.3,124.6 586.1,125.6 586.1,126.6 586.1,127.6 586.0,128.6 586.0,129.6 584.5,130.4 586.0,131.2 586.1,132.2 586.2,133.2 586.8,134.2 586.8,135.2 587.3,136.2 587.3,137.2 587.4,138.2 586.9,139.2 586.8,140.2 586.7,141.2 586.1,142.2 585.9,143.2 585.8,144.2 586.0,145.2 586.1,146.2 586.1,147.2 586.3,148.2 586.4,149.2 586.6,150.2 586.7,151.2 586.9,152.2 587.1,153.2 587.2,154.2 587.5,155.2 587.2,156.2 587.0,157.2 586.3,158.2 585.8,159.2 585.6,160.2 585.7,161.2 585.8,162.2 586.2,163.2 586.7,164.2 586.4,165.2 586.4,166.2 586.3,167.2 588.0,168.0 586.3,168.8 586.9,169.8 587.3,170.8 587.5,171.8 587.5,172.8 586.8,173.8 586.1,174.8 588.0,175.6 586.1,176.4 585.4,177.4 585.8,178.4 586.2,179.4 586.6,180.4 586.6,181.4 586.5,182.4 586.4,183.4 586.3,184.4 586.6,185.4 587.0,186.4 587.5,187.4 587.6,188.4 587.3,189.4 586.8,190.4 586.1,191.4" fill="none" stroke="#000" stroke-width="1.3" stroke-linejoin="round"/><polyline points="585.3,84.6 592.4,85.0 589.5,85.4 584.7,85.9 586.9,86.8 584.7,87.2 586.8,87.7 587.0,88.8 588.2,89.2 587.6,89.6 586.4,90.1 586.0,91.2 586.5,92.2 584.8,92.6 586.2,93.1 586.2,94.0 585.3,95.1 587.0,95.5 585.2,96.0 584.9,97.0 583.8,97.4 585.1,97.9 586.4,98.8 582.9,99.2 586.0,99.7 585.0,101.0 580.3,101.4 585.0,101.9 584.0,102.6 588.8,103.0 586.8,103.4 584.2,103.9 583.4,104.9 588.7,105.3 586.8,105.7 583.6,106.2 585.5,107.2 581.5,107.6 585.7,108.1 586.1,108.9 589.0,109.3 585.8,109.8 586.5,110.6 586.2,111.6 581.8,112.0 586.5,112.5 587.1,113.4 586.0,114.1 584.7,114.5 586.4,115.0 586.0,115.8 583.0,116.2 585.8,116.7 585.4,117.6 591.5,118.0 589.3,118.4 586.1,118.9 586.5,119.9 583.4,120.3 587.3,120.8 585.5,121.7 583.9,122.1 585.8,122.6 583.8,123.8 589.6,124.2 587.4,124.6 583.9,125.1 584.1,125.9 587.2,126.3 584.1,126.8 584.7,127.8 589.4,128.2 587.5,128.6 584.4,129.1 585.3,130.3 588.2,130.7 585.6,131.2 585.2,132.0 583.2,132.4 585.8,132.9 586.1,133.8 592.7,134.2 586.0,134.7 586.2,136.0 585.9,137.2 587.4,137.6 586.3,138.1 586.1,138.9 590.4,139.3 588.8,139.7 586.1,140.2 587.1,141.4 590.1,141.8 587.2,142.3 586.2,143.4 590.2,143.8 586.3,144.3 585.1,144.9 584.4,145.9 578.5,146.3 584.6,146.8 584.9,147.7 585.7,148.6 587.1,149.0 585.4,149.5 584.7,150.6 588.6,151.0 584.9,151.5 584.8,152.1 589.0,152.5 584.7,153.0 584.6,154.3 587.8,154.7 585.1,155.2 584.7,156.1 578.3,156.5 584.6,157.0 584.6,157.7 579.8,158.1 584.5,158.6 585.3,159.4 583.5,159.8 586.0,160.3 587.1,161.2 593.8,161.6 587.0,162.1 587.3,162.8 594.0,163.2 591.6,163.6 587.0,164.1 586.0,164.8 587.8,165.2 586.4,165.7 585.8,166.6 592.8,167.0 585.8,167.5 586.4,168.4 593.7,168.8 585.9,169.3 585.4,170.5 589.8,170.9 588.0,171.3 585.6,171.8 584.6,172.6 584.8,173.9 589.6,174.3 587.7,174.7 585.4,175.2 584.8,176.1 588.9,176.5 587.1,176.9 584.5,177.4 583.1,178.5 583.6,179.3 580.7,179.7 583.7,180.2 585.0,180.9 592.4,181.3 589.5,181.7 585.5,182.2 586.5,183.2 585.2,183.6 586.8,184.1 586.3,185.3 593.3,185.7 585.8,186.2 586.4,187.3 581.8,187.7 586.5,188.2 586.8,189.1 586.5,190.1 592.2,190.5 586.4,191.0 578.4,191.3" fill="none" stroke="#ff00ff" stroke-width="1.1" /><line x1="650.5" y1="43.9" x2="650.5" y2="186.8" stroke="#c4c4c4" stroke-width="0.9"/><line x1="667.5" y1="43.9" x2="667.5" y2="186.8" stroke="#c4c4c4" stroke-width="0.9"/><line x1="634" y1="81.5" x2="685" y2="81.5" stroke="#c4c4c4" stroke-width="0.9"/><line x1="634.5" y1="61.4" x2="650.4000000000001" y2="61.4" stroke="#3a3af0" stroke-width="1.35"/><line x1="668.0999999999999" y1="61.4" x2="685" y2="61.4" stroke="#f060f0" stroke-width="1.35"/><line x1="634.5" y1="80.5" x2="650.4000000000001" y2="80.5" stroke="#f07a7a" stroke-width="1.35"/><line x1="668.0999999999999" y1="80.5" x2="685" y2="80.5" stroke="#555" stroke-width="1.35"/><text x="635.7" y="58.4" font-size="8.7" fill="#111">GR</text><text x="670.6" y="58.4" font-size="8.7" fill="#111">AC</text><text x="637.3" y="77.4" font-size="8.7" fill="#111">SP</text><text x="669.3" y="77.4" font-size="8.7" fill="#111">ILD</text><text x="649.2" y="40.8" font-size="11" fill="#111" textLength="19.8" lengthAdjust="spacingAndGlyphs">J865</text><text transform="translate(656.5,49) rotate(90)" font-size="9" fill="#111" textLength="28" lengthAdjust="spacingAndGlyphs">DEPTH</text><text transform="translate(656.95,109) rotate(90)" font-size="6.3" font-weight="bold" fill="#111" textLength="12" lengthAdjust="spacingAndGlyphs">1350</text><line x1="663.3" y1="115.5" x2="667.3" y2="115.5" stroke="#aaa" stroke-width="0.6"/><text transform="translate(656.95,165.5) rotate(90)" font-size="6.3" font-weight="bold" fill="#111" textLength="12.5" lengthAdjust="spacingAndGlyphs">1400</text><line x1="663.3" y1="172.5" x2="667.3" y2="172.5" stroke="#aaa" stroke-width="0.6"/><polyline points="644.7,83.1 645.1,84.6 645.1,86.1 645.2,87.6 645.3,89.1 645.4,90.6 645.2,92.1 645.5,93.6 645.5,95.1 645.6,96.6 645.3,98.1 645.6,99.6 645.7,101.1 645.8,102.6 645.4,104.1 645.6,105.6 645.6,107.1 645.1,108.6 645.0,110.1 644.8,111.6 644.5,113.1 644.3,114.6 644.1,116.1 644.1,117.6 643.9,119.1 644.1,120.6 644.2,122.1 644.6,123.6 644.7,125.1 644.8,126.6 644.7,128.1 644.9,129.6 644.5,131.1 644.3,132.6 643.9,134.1 643.8,135.6 643.5,137.1 643.5,138.6 643.4,140.1 643.5,141.6 643.5,143.1 643.5,144.6 643.9,146.1 644.0,147.6 643.9,149.1 643.9,150.6 644.1,152.1 644.0,153.6 644.2,155.1 644.0,156.6 644.3,158.1 644.8,159.6 644.6,161.1 644.9,162.6 645.0,164.1 644.9,165.6 644.8,167.1 644.9,168.6 644.8,170.1 644.3,171.6 644.5,173.1 644.3,174.6 644.4,176.1 644.5,177.6 644.8,179.1 645.2,180.6 645.5,182.1 645.9,183.6 645.9,185.1 646.0,186.6" fill="none" stroke="#ff2000" stroke-width="1.0" /><polyline points="643.5,83.1 640.8,84.7 641.8,86.3 637.8,87.6 641.7,88.6 638.0,90.1 639.2,91.8 637.3,94.1 640.7,95.3 638.2,96.5 641.4,98.2 638.8,99.8 641.5,102.0 637.6,103.1 639.3,104.5 636.8,106.1 640.4,107.4 637.3,109.5 639.5,111.3 638.1,112.5 640.3,114.1 637.9,115.8 641.3,117.1 638.5,119.0 641.0,120.3 638.7,122.5 641.8,124.9 638.5,126.8 640.5,128.8 638.9,130.4 641.2,131.9 639.1,133.4 644.0,134.8 641.1,136.9 644.0,138.7 641.5,140.0 642.5,141.7 639.1,143.7 642.5,145.0 638.8,146.7 642.7,149.0 639.2,150.0 643.5,152.0 640.7,154.0 643.7,155.9 640.2,157.3 642.9,158.8 639.5,160.8 641.9,162.4 639.0,163.7 641.6,164.9 637.1,166.9 639.7,169.2 638.1,171.4 640.8,173.6 639.2,176.4 641.5,178.2 638.1,180.6 639.0,182.6 636.2,184.8 639.0,186.1 635.5,186.4" fill="none" stroke="#0000ff" stroke-width="1.15" stroke-linejoin="round"/><polyline points="676.4,83.1 676.0,84.1 675.7,85.1 675.3,86.1 675.2,87.1 674.9,88.1 674.7,89.1 674.1,90.1 674.1,91.1 673.8,92.1 674.4,93.1 674.8,94.1 675.4,95.1 675.6,96.1 675.6,97.1 675.5,98.1 675.2,99.1 675.1,100.1 675.3,101.1 675.4,102.1 676.0,103.1 677.9,103.9 676.0,104.7 676.4,105.7 676.4,106.7 676.5,107.7 676.7,108.7 676.6,109.7 676.7,110.7 676.6,111.7 676.1,112.7 677.8,113.5 676.1,114.3 674.4,115.3 674.1,116.3 674.2,117.3 674.5,118.3 674.9,119.3 675.0,120.3 675.0,121.3 675.1,122.3 674.8,123.3 674.7,124.3 674.8,125.3 675.1,126.3 675.3,127.3 675.4,128.3 675.4,129.3 675.4,130.3 675.5,131.3 676.0,132.3 676.5,133.3 676.9,134.3 677.4,135.3 677.2,136.3 676.8,137.3 676.4,138.3 675.8,139.3 675.4,140.3 675.2,141.3 675.3,142.3 675.2,143.3 675.2,144.3 674.9,145.3 674.9,146.3 674.6,147.3 674.8,148.3 674.8,149.3 675.1,150.3 675.0,151.3 675.0,152.3 674.4,153.3 674.4,154.3 674.3,155.3 674.6,156.3 675.3,157.3 676.0,158.3 676.4,159.3 676.8,160.3 676.8,161.3 676.7,162.3 676.6,163.3 676.5,164.3 676.3,165.3 676.3,166.3 676.1,167.3 675.7,168.3 675.4,169.3 675.2,170.3 674.8,171.3 675.1,172.3 675.4,173.3 675.5,174.3 675.3,175.3 675.2,176.3 674.8,177.3 674.3,178.3 674.0,179.3 674.0,180.3 674.2,181.3 674.7,182.3 675.1,183.3 675.5,184.3 675.6,185.3 675.9,186.3" fill="none" stroke="#000" stroke-width="1.3" stroke-linejoin="round"/><polyline points="679.0,83.1 678.8,84.5 677.7,85.4 682.4,85.8 678.5,86.3 677.9,87.4 678.9,88.8 682.3,89.2 680.9,89.6 678.9,90.1 678.0,91.0 677.2,92.6 681.4,93.0 678.1,93.5 677.4,95.0 674.8,95.4 677.8,95.9 677.9,97.5 677.6,99.1 683.0,99.5 677.7,100.0 676.6,101.8 678.4,102.2 677.8,102.6 677.1,103.1 676.3,104.1 676.0,105.4 679.8,105.8 678.3,106.2 676.0,106.7 676.1,107.8 677.9,108.2 676.0,108.7 677.5,110.2 678.5,111.8 677.4,112.8 678.2,113.8 677.1,114.2 677.7,114.7 679.4,116.2 678.1,116.6 678.8,117.1 678.1,118.5 678.1,119.9 682.8,120.3 680.8,120.7 678.0,121.2 677.7,122.6 677.3,123.0 678.3,123.5 678.2,124.5 682.2,124.9 680.7,125.3 678.3,125.8 677.2,127.0 677.5,128.0 676.5,128.4 677.5,128.9 677.4,130.3 678.7,130.7 677.7,131.2 675.6,132.9 674.7,134.0 676.0,135.7 676.6,137.0 678.4,137.4 677.6,137.8 675.9,138.3 677.0,139.5 676.6,141.2 677.7,142.5 683.3,142.9 678.2,143.4 679.5,145.2 679.0,146.1 677.0,146.5 678.4,147.0 676.7,148.4 676.8,148.8 677.9,149.3 678.0,150.8 678.3,152.3 675.5,152.7 678.2,153.2 677.9,154.9 680.1,155.3 677.7,155.8 678.0,157.5 676.7,157.9 678.4,158.4 677.1,159.7 684.1,160.1 677.9,160.6 675.6,161.9 676.5,163.0 676.0,164.5 673.4,164.9 675.9,165.4 676.8,167.0 682.6,167.4 680.2,167.8 676.6,168.3 676.9,169.2 678.0,171.0 680.3,171.4 678.2,171.9 678.4,173.6 678.4,175.2 676.2,175.6 678.4,176.1 678.1,177.9 678.8,179.5 685.0,179.9 682.4,180.3 678.6,180.8 678.0,182.1 674.9,182.5 678.1,183.0 677.3,184.5 677.6,185.5 668.8,185.8" fill="none" stroke="#ff00ff" stroke-width="1.1" />
<text x="94.6" y="125.8" font-size="8.6" font-weight="bold" fill="#000" textLength="76.2" lengthAdjust="spacingAndGlyphs">Yan 10<tspan dy="-3.8" font-size="4.8">1</tspan><tspan dy="3.8">-1 sub-period</tspan></text><text x="235.1" y="150.9" font-size="8.6" font-weight="bold" fill="#000" textLength="52.7" lengthAdjust="spacingAndGlyphs">Yan 10<tspan dy="-3.8" font-size="4.8">2</tspan><tspan dy="3.8"> period</tspan></text><text x="140.7" y="203.7" font-size="8.6" font-weight="bold" fill="#000" textLength="49.6" lengthAdjust="spacingAndGlyphs">Fuxian period</text><text x="445.8" y="122.9" font-size="8.6" font-weight="bold" fill="#000" textLength="76.4" lengthAdjust="spacingAndGlyphs">Yan 10<tspan dy="-3.8" font-size="4.8">1</tspan><tspan dy="3.8">-2 sub-period</tspan></text><text x="588.5" y="123.8" font-size="8.6" font-weight="bold" fill="#000" textLength="75.6" lengthAdjust="spacingAndGlyphs">Yan 10<tspan dy="-3.8" font-size="4.8">1</tspan><tspan dy="3.8">-3 sub-period</tspan></text>
<line x1="321" y1="18.2" x2="389" y2="18.2" stroke="#999" stroke-width="1"/><line x1="343.7" y1="18.2" x2="366.4" y2="18.2" stroke="#222" stroke-width="1.1"/><line x1="321.3" y1="16.5" x2="321.3" y2="18.6" stroke="#999" stroke-width="0.7"/><line x1="388.7" y1="16.5" x2="388.7" y2="18.6" stroke="#999" stroke-width="0.7"/><text x="321.3" y="15.2" font-size="5.5" fill="#222" text-anchor="middle">0</text><text x="343.7" y="15.2" font-size="5.5" fill="#222" text-anchor="middle">100</text><text x="366.4" y="15.2" font-size="5.5" fill="#222" text-anchor="middle">200</text><text x="388.7" y="15.2" font-size="5.5" fill="#222" text-anchor="middle">300</text><text x="397" y="15.2" font-size="5.5" fill="#333">m</text><polygon points="597.5,10.5 626,10.5 626,8.8 632,12.3 626,15.6 626,14 597.5,14" fill="#fff" stroke="#aaa" stroke-width="0.6"/><text x="614.5" y="5" font-size="6.5" fill="#333" text-anchor="middle">NE</text>
<rect x="287.3" y="221.2" width="22.30000000000001" height="15.5" fill="#84b5dc" stroke="#c8c8c8" stroke-width="0.5"/><rect x="352" y="221.2" width="22.399999999999977" height="15.5" fill="#ccfb93" stroke="#c8c8c8" stroke-width="0.5"/><rect x="417.2" y="221.2" width="22.80000000000001" height="15.5" fill="#82c98e" stroke="#c8c8c8" stroke-width="0.5"/><rect x="482" y="221.2" width="22.600000000000023" height="15.5" fill="#d9d906" stroke="#c8c8c8" stroke-width="0.5"/><rect x="547.5" y="221.2" width="22.5" height="15.5" fill="#ffff00" stroke="#c8c8c8" stroke-width="0.5"/><rect x="482" y="221.2" width="22.6" height="15.5" fill="url(#hatch)"/><rect x="612.9" y="221.2" width="22.1" height="15.5" fill="#fff" stroke="#c8c8c8" stroke-width="0.6"/><path d="M614.5,222 Q620,236 626,234.5 Q631,233.5 634,228" fill="none" stroke="#000" stroke-width="1.1" stroke-dasharray="1.6 0.9"/><text x="331.9" y="224.6" font-size="6.0" fill="#111" text-anchor="middle">Fluvial channel</text><text x="331.9" y="231.79999999999998" font-size="6.0" fill="#111" text-anchor="middle">of Fuxian</text><text x="331.9" y="239.0" font-size="6.0" fill="#111" text-anchor="middle">period</text><text x="396.2" y="224.3" font-size="6.0" fill="#111" text-anchor="middle">Fluvial channel</text><text x="396.2" y="231.60000000000002" font-size="6.0" fill="#111" text-anchor="middle">of Yan 10<tspan dy="-2" font-size="4">2</tspan><tspan dy="2"></tspan></text><text x="396.2" y="238.9" font-size="6.0" fill="#111" text-anchor="middle">period</text><text x="461.4" y="224.8" font-size="6.0" fill="#111" text-anchor="middle">Fluvial channel</text><text x="461.4" y="232.4" font-size="6.0" fill="#111" text-anchor="middle">of Yan 10<tspan dy="-2" font-size="4">1</tspan><tspan dy="2"></tspan></text><text x="461.4" y="240.0" font-size="6.0" fill="#111" text-anchor="middle">period</text><text x="525.2" y="227.2" font-size="6.0" fill="#111" text-anchor="middle">Channel sand</text><text x="525.2" y="233.79999999999998" font-size="6.0" fill="#111" text-anchor="middle">body</text><text x="590.2" y="227.2" font-size="6.0" fill="#111" text-anchor="middle">Floodplain sand</text><text x="590.2" y="233.79999999999998" font-size="6.0" fill="#111" text-anchor="middle">body</text><text x="656.2" y="227.2" font-size="6.0" fill="#111" text-anchor="middle">Unconformity</text><text x="656.2" y="233.79999999999998" font-size="6.0" fill="#111" text-anchor="middle">contact line</text>
</svg>
</body></html>
